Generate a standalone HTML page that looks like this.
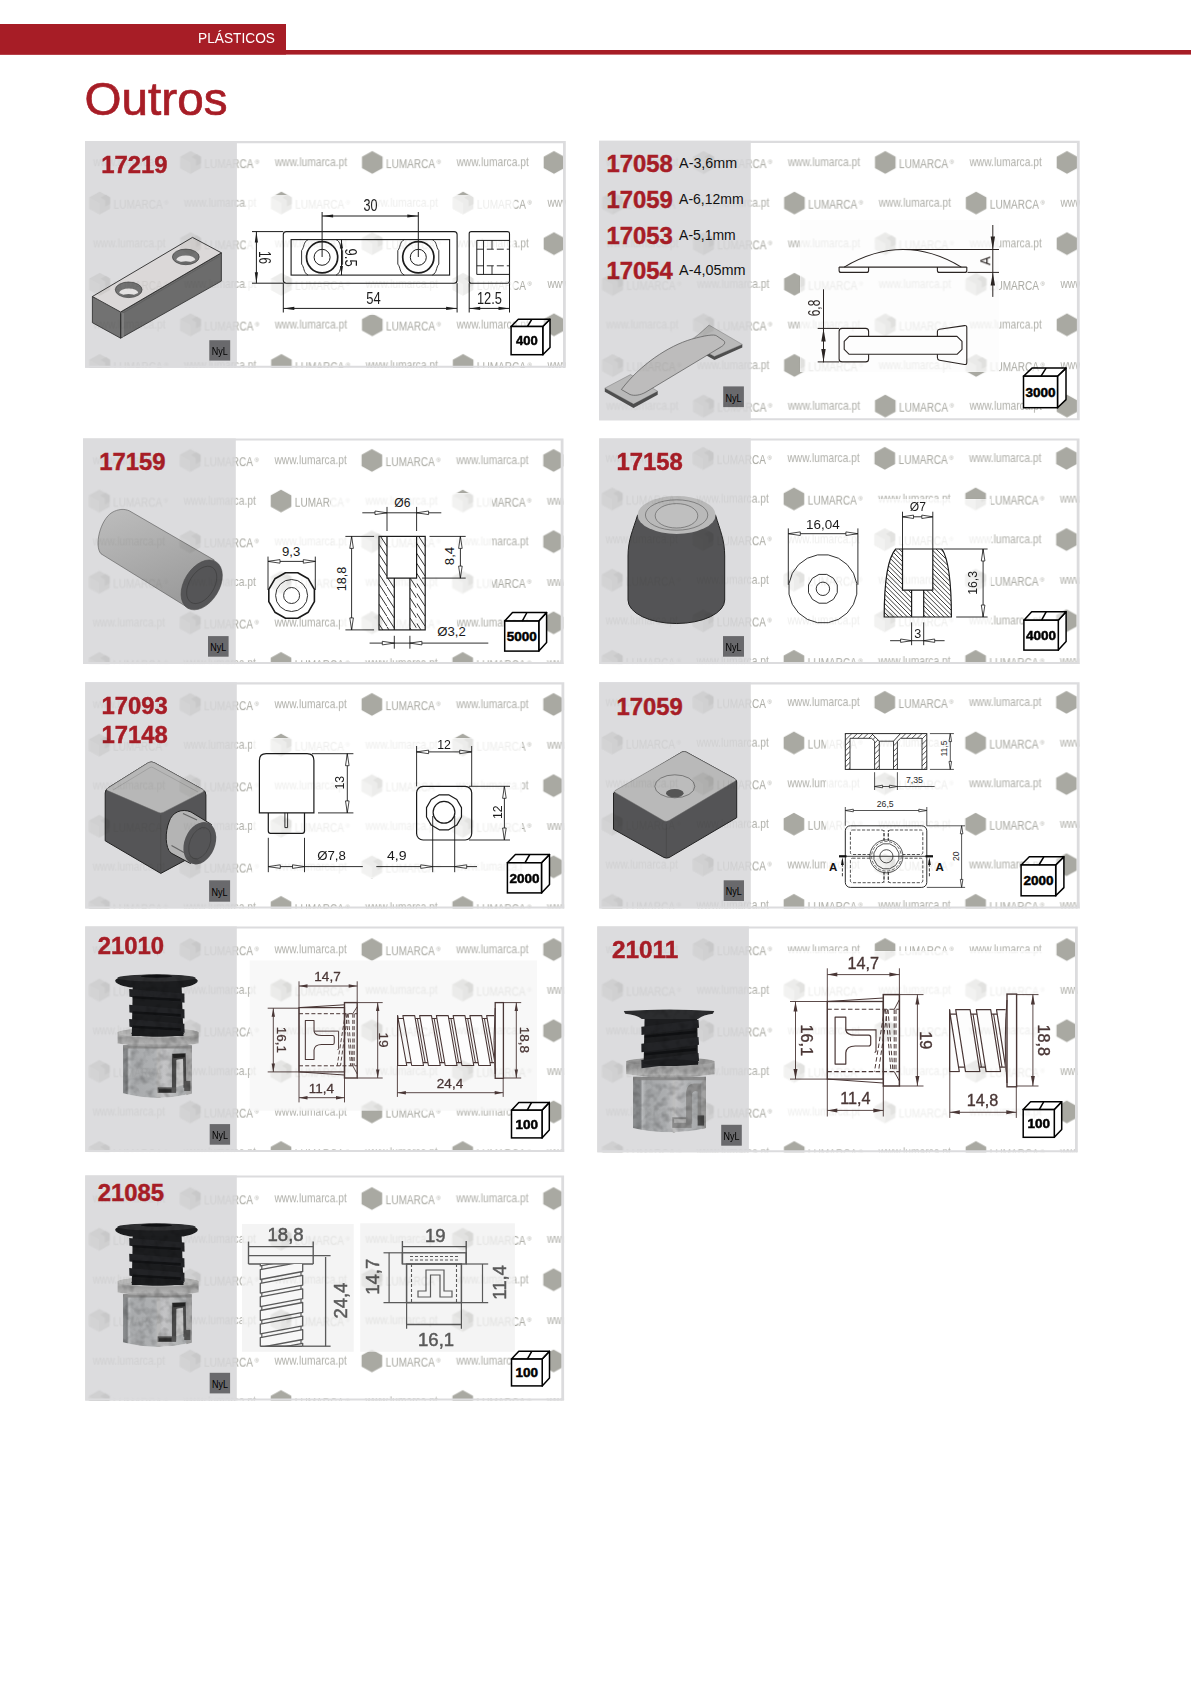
<!DOCTYPE html>
<html lang="pt"><head><meta charset="utf-8"><title>Outros - Plásticos</title>
<style>
html,body{margin:0;padding:0;background:#fff;}
body{width:1191px;height:1684px;overflow:hidden;font-family:'Liberation Sans', sans-serif;}
svg{display:block;position:absolute;left:0;top:0;}
svg text{font-family:'Liberation Sans', sans-serif;}
</style></head><body>
<svg width="1191" height="1684" viewBox="0 0 1191 1684">
<defs>
<pattern id="wm" patternUnits="userSpaceOnUse" x="0" y="0" width="181.7" height="81.2">
<polygon points="12,8.6 22.3,14.3 22.3,25.7 12,31.4 1.7,25.7 1.7,14.3" fill="#a9a9a2"/>
<text x="25.8" y="25.8" font-size="12.2" fill="#a9a9a2" textLength="49" lengthAdjust="spacingAndGlyphs">LUMARCA</text>
<text x="76.4" y="21.6" font-size="6" fill="#a9a9a2">®</text>
<text x="96.3" y="23.9" font-size="12.6" fill="#a9a9a2" textLength="72.3" lengthAdjust="spacingAndGlyphs" fill-opacity="0.92">www.lumarca.pt</text>
<polygon points="102.85,49.2 113.15,54.9 113.15,66.3 102.85,72 92.55,66.3 92.55,54.9" fill="#a9a9a2"/>
<text x="116.65" y="66.4" font-size="12.2" fill="#a9a9a2" textLength="49" lengthAdjust="spacingAndGlyphs">LUMARCA</text>
<text x="167.25" y="62.2" font-size="6" fill="#a9a9a2">®</text>
<text x="5.45" y="64.5" font-size="12.6" fill="#a9a9a2" textLength="72.3" lengthAdjust="spacingAndGlyphs" fill-opacity="0.92">www.lumarca.pt</text>
</pattern>
<pattern id="wm2" patternUnits="userSpaceOnUse" x="0" y="0" width="181.7" height="81.2">
<polygon points="12,8.6 22.3,14.3 22.3,25.7 12,31.4 1.7,25.7 1.7,14.3" fill="#a9a9a2"/>
<polygon points="13,14.5 18,11.6 22.3,14.3 22.3,21 17.5,23.6 17.5,17.4" fill="#77776f"/>
<polygon points="1.7,14.3 12,20 12,31.4 1.7,25.7" fill="#c4c4be"/>
<text x="25.8" y="25.8" font-size="12.2" fill="#a9a9a2" textLength="49" lengthAdjust="spacingAndGlyphs">LUMARCA</text>
<text x="76.4" y="21.6" font-size="6" fill="#a9a9a2">®</text>
<text x="96.3" y="23.9" font-size="12.6" fill="#a9a9a2" textLength="72.3" lengthAdjust="spacingAndGlyphs" fill-opacity="0.92">www.lumarca.pt</text>
<polygon points="102.85,49.2 113.15,54.9 113.15,66.3 102.85,72 92.55,66.3 92.55,54.9" fill="#a9a9a2"/>
<polygon points="103.85,55.1 108.85,52.2 113.15,54.9 113.15,61.6 108.35,64.2 108.35,58" fill="#77776f"/>
<polygon points="92.55,54.9 102.85,60.6 102.85,72 92.55,66.3" fill="#c4c4be"/>
<text x="116.65" y="66.4" font-size="12.2" fill="#a9a9a2" textLength="49" lengthAdjust="spacingAndGlyphs">LUMARCA</text>
<text x="167.25" y="62.2" font-size="6" fill="#a9a9a2">®</text>
<text x="5.45" y="64.5" font-size="12.6" fill="#a9a9a2" textLength="72.3" lengthAdjust="spacingAndGlyphs" fill-opacity="0.92">www.lumarca.pt</text>
</pattern>
</defs>
<rect x="0" y="0" width="1191" height="1684" rx="0" fill="#fff" stroke="none" stroke-width="1" />
<rect x="0" y="24" width="286" height="30.6" rx="0" fill="#a71d26" stroke="none" stroke-width="1" />
<rect x="0" y="50" width="1191" height="4.6" rx="0" fill="#a71d26" stroke="none" stroke-width="1" />
<text x="198" y="43.2" font-size="14.6" text-anchor="start" font-weight="normal" fill="#fff" textLength="77" lengthAdjust="spacingAndGlyphs" >PLÁSTICOS</text>
<text x="84.5" y="114.7" font-size="46.5" text-anchor="start" font-weight="normal" fill="#a71d26" textLength="143" lengthAdjust="spacingAndGlyphs" stroke="#a71d26" stroke-width="0.7">Outros</text>
<!-- card 1 -->
<rect x="85.1" y="141" width="480.7" height="226.8" rx="0" fill="#fff" stroke="none" stroke-width="1" />
<g transform="translate(178.6 61.2)"><rect x="-93.5" y="79.8" width="480.7" height="226.8" fill="url(#wm)" opacity="1"/></g>
<rect x="85.1" y="141" width="151.8" height="226.8" rx="0" fill="#dcdcde" stroke="none" stroke-width="1" />
<rect x="246" y="195" width="268.5" height="120" rx="0" fill="#fff" stroke="none" stroke-width="1" />
<text x="101.3" y="172.7" font-size="23.5" text-anchor="start" font-weight="bold" fill="#a71d26" textLength="66.3" lengthAdjust="spacingAndGlyphs" stroke="#a71d26" stroke-width="0.45">17219</text>
<polygon points="92.4,296.5 120.6,312 120.6,338.2 92.4,322.7" fill="#727272" stroke="#2a2a2a" stroke-width="0.8" stroke-linejoin="round" />
<polygon points="120.6,312 221.4,252.8 221.4,281.1 120.6,338.2" fill="#6c6c6c" stroke="#2a2a2a" stroke-width="0.8" stroke-linejoin="round" />
<polygon points="92.4,296.5 192.5,237.4 221.4,252.8 120.6,312" fill="#dbd8d8" stroke="#2a2a2a" stroke-width="0.9" stroke-linejoin="round" />
<line x1="95.5" y1="298.6" x2="122" y2="313.6" stroke="#777" stroke-width="0.5" />
<line x1="122" y1="313.6" x2="219.5" y2="256.2" stroke="#555" stroke-width="0.5" />
<line x1="123" y1="313" x2="123" y2="337" stroke="#8a8a8a" stroke-width="1.2" />
<ellipse cx="185.8" cy="256.9" rx="13.4" ry="7.8" fill="#727272" stroke="#333" stroke-width="0.6"/>
<path d="M176.3 260.1 A9.5 4.6 0 0 1 195.3 260.1 A13.4 7.8 0 0 1 176.3 260.1Z" fill="#e4e2e2" stroke="none" stroke-width="1" />
<ellipse cx="185.8" cy="262.9" rx="5.6" ry="1.7" fill="#666" stroke="none" stroke-width="1"/>
<ellipse cx="128.7" cy="289.8" rx="13.4" ry="7.8" fill="#727272" stroke="#333" stroke-width="0.6"/>
<path d="M119.2 293 A9.5 4.6 0 0 1 138.2 293 A13.4 7.8 0 0 1 119.2 293Z" fill="#e4e2e2" stroke="none" stroke-width="1" />
<ellipse cx="128.7" cy="295.8" rx="5.6" ry="1.7" fill="#666" stroke="none" stroke-width="1"/>
<rect x="209.3" y="340.2" width="20.9" height="20.4" rx="0" fill="#69696c" stroke="none" stroke-width="1" />
<text x="219.75" y="355" font-size="11.5" text-anchor="middle" font-weight="normal" fill="#000" textLength="16" lengthAdjust="spacingAndGlyphs" >NyL</text>
<rect x="283.3" y="231.6" width="173.8" height="51.6" rx="3" fill="none" stroke="#1c1c1c" stroke-width="1.1" />
<rect x="291.1" y="239.6" width="158.5" height="35.5" rx="0" fill="none" stroke="#1c1c1c" stroke-width="1.1" />
<path d="M308.1 239.6 C303.1 242 304.6 247 301.6 250.5 L301.6 264.1 C304.6 267.6 303.1 272.6 308.1 275.1 M336.1 239.6 C341.1 242 339.6 247 342.6 250.5 L342.6 264.1 C339.6 267.6 341.1 272.6 336.1 275.1" fill="none" stroke="#1c1c1c" stroke-width="0.9" />
<circle cx="322.1" cy="257.3" r="15.6" fill="none" stroke="#1c1c1c" stroke-width="1.7"/>
<circle cx="322.1" cy="257.3" r="8" fill="none" stroke="#1c1c1c" stroke-width="1"/>
<path d="M404.3 239.6 C399.3 242 400.8 247 397.8 250.5 L397.8 264.1 C400.8 267.6 399.3 272.6 404.3 275.1 M432.3 239.6 C437.3 242 435.8 247 438.8 250.5 L438.8 264.1 C435.8 267.6 437.3 272.6 432.3 275.1" fill="none" stroke="#1c1c1c" stroke-width="0.9" />
<circle cx="418.3" cy="257.3" r="15.6" fill="none" stroke="#1c1c1c" stroke-width="1.7"/>
<circle cx="418.3" cy="257.3" r="8" fill="none" stroke="#1c1c1c" stroke-width="1"/>
<line x1="322.1" y1="212" x2="322.1" y2="257" stroke="#1c1c1c" stroke-width="1" />
<line x1="418.3" y1="212" x2="418.3" y2="257" stroke="#1c1c1c" stroke-width="1" />
<line x1="322.1" y1="216" x2="418.3" y2="216" stroke="#1c1c1c" stroke-width="1" />
<polygon points="322.1,216 333.1,214.4 333.1,217.6" fill="#1c1c1c" stroke="none" stroke-width="1" stroke-linejoin="round" />
<polygon points="418.3,216 407.3,217.6 407.3,214.4" fill="#1c1c1c" stroke="none" stroke-width="1" stroke-linejoin="round" />
<text x="370.5" y="211" font-size="17" text-anchor="middle" font-weight="normal" fill="#1c1c1c" textLength="14" lengthAdjust="spacingAndGlyphs" >30</text>
<line x1="252" y1="231.6" x2="283.3" y2="231.6" stroke="#1c1c1c" stroke-width="1" />
<line x1="252" y1="283.2" x2="283.3" y2="283.2" stroke="#1c1c1c" stroke-width="1" />
<line x1="256.4" y1="231.6" x2="256.4" y2="283.2" stroke="#1c1c1c" stroke-width="1" />
<polygon points="256.4,231.6 258,242.6 254.8,242.6" fill="#1c1c1c" stroke="none" stroke-width="1" stroke-linejoin="round" />
<polygon points="256.4,283.2 254.8,272.2 258,272.2" fill="#1c1c1c" stroke="none" stroke-width="1" stroke-linejoin="round" />
<text x="258.6" y="257.4" font-size="17" text-anchor="middle" font-weight="normal" fill="#1c1c1c" textLength="13" lengthAdjust="spacingAndGlyphs" transform="rotate(90 258.6 257.4)" >16</text>
<line x1="341.5" y1="239.6" x2="341.5" y2="275.1" stroke="#1c1c1c" stroke-width="1" />
<polygon points="341.5,239.6 343,248.6 340,248.6" fill="#1c1c1c" stroke="none" stroke-width="1" stroke-linejoin="round" />
<polygon points="341.5,275.1 340,266.1 343,266.1" fill="#1c1c1c" stroke="none" stroke-width="1" stroke-linejoin="round" />
<text x="344.6" y="257.6" font-size="17" text-anchor="middle" font-weight="normal" fill="#1c1c1c" textLength="18" lengthAdjust="spacingAndGlyphs" transform="rotate(90 344.6 257.6)" >9.5</text>
<line x1="283.3" y1="283.2" x2="283.3" y2="312.5" stroke="#1c1c1c" stroke-width="1" />
<line x1="457.1" y1="283.2" x2="457.1" y2="312.5" stroke="#1c1c1c" stroke-width="1" />
<line x1="283.3" y1="308.4" x2="457.1" y2="308.4" stroke="#1c1c1c" stroke-width="1" />
<polygon points="283.3,308.4 294.3,306.8 294.3,310" fill="#1c1c1c" stroke="none" stroke-width="1" stroke-linejoin="round" />
<polygon points="457.1,308.4 446.1,310 446.1,306.8" fill="#1c1c1c" stroke="none" stroke-width="1" stroke-linejoin="round" />
<text x="373.5" y="304" font-size="17" text-anchor="middle" font-weight="normal" fill="#1c1c1c" textLength="14.5" lengthAdjust="spacingAndGlyphs" >54</text>
<rect x="469.2" y="231.6" width="40.3" height="51.6" rx="2" fill="none" stroke="#1c1c1c" stroke-width="1.1" />
<line x1="476.8" y1="240.4" x2="476.8" y2="274.4" stroke="#1c1c1c" stroke-width="1" />
<line x1="476.8" y1="240.4" x2="509.5" y2="240.4" stroke="#1c1c1c" stroke-width="1" />
<line x1="476.8" y1="274.4" x2="509.5" y2="274.4" stroke="#1c1c1c" stroke-width="1" />
<line x1="483.5" y1="240.4" x2="483.5" y2="274.4" stroke="#1c1c1c" stroke-width="0.9" />
<line x1="476.8" y1="249.2" x2="509.5" y2="249.2" stroke="#1c1c1c" stroke-width="0.9" stroke-dasharray="7 3"/>
<line x1="476.8" y1="265.8" x2="509.5" y2="265.8" stroke="#1c1c1c" stroke-width="0.9" stroke-dasharray="7 3"/>
<line x1="492" y1="240.4" x2="492" y2="249.2" stroke="#1c1c1c" stroke-width="0.9" />
<line x1="492" y1="265.8" x2="492" y2="274.4" stroke="#1c1c1c" stroke-width="0.9" />
<line x1="469.2" y1="283.2" x2="469.2" y2="312.5" stroke="#1c1c1c" stroke-width="1" />
<line x1="509.5" y1="283.2" x2="509.5" y2="312.5" stroke="#1c1c1c" stroke-width="1" />
<line x1="469.2" y1="308.4" x2="509.5" y2="308.4" stroke="#1c1c1c" stroke-width="1" />
<polygon points="469.2,308.4 480.2,306.8 480.2,310" fill="#1c1c1c" stroke="none" stroke-width="1" stroke-linejoin="round" />
<polygon points="509.5,308.4 498.5,310 498.5,306.8" fill="#1c1c1c" stroke="none" stroke-width="1" stroke-linejoin="round" />
<text x="489.4" y="304" font-size="17" text-anchor="middle" font-weight="normal" fill="#1c1c1c" textLength="25" lengthAdjust="spacingAndGlyphs" >12.5</text>
<polygon points="542.8,326.5 550,319.3 550,347.5 542.8,354.7" fill="#fff" stroke="#000" stroke-width="1.5" stroke-linejoin="round" />
<polygon points="511.1,326.5 518.3,319.3 550,319.3 542.8,326.5" fill="#fff" stroke="#000" stroke-width="1.5" stroke-linejoin="round" fill-opacity="0.55"/>
<rect x="511.1" y="326.5" width="31.7" height="28.2" rx="0" fill="#fff" stroke="#000" stroke-width="1.5" />
<line x1="527.45" y1="326.5" x2="531.77" y2="319.3" stroke="#000" stroke-width="1.5" />
<text x="526.95" y="345.28" font-size="13" text-anchor="middle" font-weight="bold" fill="#000" stroke="#000" stroke-width="0.5">400</text>
<g transform="translate(178.6 61.2)"><rect x="-93.5" y="79.8" width="151.8" height="226.8" fill="url(#wm2)" opacity="0.17" style="mix-blend-mode:multiply"/></g>
<g transform="translate(178.6 61.2)"><rect x="67.4" y="133.8" width="268.5" height="120" fill="url(#wm2)" opacity="0.22" style="mix-blend-mode:multiply"/></g>
<path d="M85.1 141H565.8V367.8H85.1Z M87.1 143.2V365.8H563V143.2Z" fill="#dcdcde" fill-rule="evenodd"/>
<!-- card 2 -->
<rect x="599.1" y="140.8" width="480.6" height="279.5" rx="0" fill="#fff" stroke="none" stroke-width="1" />
<g transform="translate(146.5 61.2)"><rect x="452.6" y="79.6" width="480.6" height="279.5" fill="url(#wm)" opacity="1"/></g>
<rect x="599.1" y="140.8" width="151.7" height="279.5" rx="0" fill="#dcdcde" stroke="none" stroke-width="1" />
<rect x="800" y="220" width="199" height="152" rx="0" fill="#fdfdfd" stroke="none" stroke-width="1" />
<text x="606.5" y="171.6" font-size="23.5" text-anchor="start" font-weight="bold" fill="#a71d26" textLength="66.3" lengthAdjust="spacingAndGlyphs" stroke="#a71d26" stroke-width="0.45">17058</text>
<text x="679.1" y="167.6" font-size="14.2" text-anchor="start" font-weight="normal" fill="#111" textLength="58" lengthAdjust="spacingAndGlyphs" >A-3,6mm</text>
<text x="606.5" y="207.55" font-size="23.5" text-anchor="start" font-weight="bold" fill="#a71d26" textLength="66.3" lengthAdjust="spacingAndGlyphs" stroke="#a71d26" stroke-width="0.45">17059</text>
<text x="679.1" y="203.55" font-size="14.2" text-anchor="start" font-weight="normal" fill="#111" textLength="64.5" lengthAdjust="spacingAndGlyphs" >A-6,12mm</text>
<text x="606.5" y="243.5" font-size="23.5" text-anchor="start" font-weight="bold" fill="#a71d26" textLength="66.3" lengthAdjust="spacingAndGlyphs" stroke="#a71d26" stroke-width="0.45">17053</text>
<text x="679.1" y="239.5" font-size="14.2" text-anchor="start" font-weight="normal" fill="#111" textLength="56.5" lengthAdjust="spacingAndGlyphs" >A-5,1mm</text>
<text x="606.5" y="279.45" font-size="23.5" text-anchor="start" font-weight="bold" fill="#a71d26" textLength="66.3" lengthAdjust="spacingAndGlyphs" stroke="#a71d26" stroke-width="0.45">17054</text>
<text x="679.1" y="275.45" font-size="14.2" text-anchor="start" font-weight="normal" fill="#111" textLength="66.5" lengthAdjust="spacingAndGlyphs" >A-4,05mm</text>
<polygon points="604.8,388.2 630.5,374.6 657.7,391.3 633.5,404.1" fill="#b9b9b9" stroke="#777" stroke-width="0.5" stroke-linejoin="round" />
<polygon points="604.8,388.2 633.5,404.1 657.7,391.3 657.7,394.8 633.5,407.9 604.8,391.8" fill="#4e4e4e" stroke="none" stroke-width="1" stroke-linejoin="round" />
<polygon points="709.1,325.1 742.3,344.4 714.4,356.5 690,342" fill="#b9b9b9" stroke="#777" stroke-width="0.5" stroke-linejoin="round" />
<polygon points="742.3,344.4 742.3,347.6 714.4,360 706.1,355.3 706.1,352 714.4,356.5" fill="#4e4e4e" stroke="none" stroke-width="1" stroke-linejoin="round" />
<path d="M621.4 389.5 C640 365 668 346 691.7 339.1 C705 335.5 714 334 716.5 335.8 L723.5 340.5 C726 342.5 724.5 345 720 347.5 L646 392 C640 395.5 634 396 630 394.5 Z" fill="#bdbcbc" stroke="#555" stroke-width="0.7" />
<path d="M691.7 339.1 C700 334 704 330 709.1 325.1" fill="none" stroke="#888" stroke-width="0.5" />
<rect x="723.2" y="386.4" width="20.7" height="20.7" rx="0" fill="#69696c" stroke="none" stroke-width="1" />
<text x="733.55" y="401.5" font-size="11.5" text-anchor="middle" font-weight="normal" fill="#000" textLength="16" lengthAdjust="spacingAndGlyphs" >NyL</text>
<path d="M844.2 267.1 Q903.4 232 961.3 267.1" fill="none" stroke="#2a2422" stroke-width="1.1" />
<line x1="839.1" y1="267.1" x2="966.8" y2="267.1" stroke="#2a2422" stroke-width="1.1" />
<path d="M839.1 267.1 V270.4 Q839.1 272.4 841.1 272.4 H866.6 Q868.6 272.4 868.6 270.4 V267.1" fill="none" stroke="#2a2422" stroke-width="1.1" />
<path d="M937.4 267.1 V270.4 Q937.4 272.4 939.4 272.4 H964.8 Q966.8 272.4 966.8 270.4 V267.1" fill="none" stroke="#2a2422" stroke-width="1.1" />
<line x1="903" y1="249.5" x2="999" y2="249.5" stroke="#2a2422" stroke-width="1" />
<line x1="967.5" y1="272.4" x2="999" y2="272.4" stroke="#2a2422" stroke-width="1" />
<line x1="992.8" y1="225" x2="992.8" y2="296.9" stroke="#2a2422" stroke-width="1" />
<polygon points="992.8,249.5 990.6,236.5 995,236.5" fill="#2a2422" stroke="none" stroke-width="1" stroke-linejoin="round" />
<polygon points="992.8,272.4 995,285.4 990.6,285.4" fill="#2a2422" stroke="none" stroke-width="1" stroke-linejoin="round" />
<text x="990.3" y="261" font-size="15.5" text-anchor="middle" font-weight="normal" fill="#2a2422" textLength="8.8" lengthAdjust="spacingAndGlyphs" transform="rotate(-90 990.3 261)" >A</text>
<line x1="823.5" y1="289.3" x2="823.5" y2="362.4" stroke="#2a2422" stroke-width="1" />
<line x1="817.7" y1="328.4" x2="839.1" y2="328.4" stroke="#2a2422" stroke-width="1" />
<line x1="817.7" y1="361.9" x2="839.1" y2="361.9" stroke="#2a2422" stroke-width="1" />
<polygon points="823.5,328.4 825.7,341.4 821.3,341.4" fill="#2a2422" stroke="none" stroke-width="1" stroke-linejoin="round" />
<polygon points="823.5,361.9 821.3,348.9 825.7,348.9" fill="#2a2422" stroke="none" stroke-width="1" stroke-linejoin="round" />
<text x="820" y="308" font-size="17" text-anchor="middle" font-weight="normal" fill="#2a2422" textLength="16.4" lengthAdjust="spacingAndGlyphs" transform="rotate(-90 820 308)" >6,8</text>
<rect x="839.1" y="328.4" width="29.5" height="33.5" rx="3" fill="none" stroke="#2a2422" stroke-width="1.1" />
<path d="M939.5 329.3 L964.5 325.6 Q966.8 325.3 966.8 327.6 V362.6 Q966.8 364.9 964.5 364.5 L939.5 360.2 Q937.4 359.8 937.4 357.6 V331.6 Q937.4 329.6 939.5 329.3Z" fill="none" stroke="#2a2422" stroke-width="1.1" />
<path d="M849.2 336.4 H957 L962 341.4 V349.3 L957 354.3 H849.2 L844.2 349.3 V341.4 Z" fill="#fdfdfd" stroke="#2a2422" stroke-width="1.1" stroke-linejoin="round"/>
<polygon points="1057.5,376.2 1066,368.1 1066,399.6 1057.5,407.7" fill="#fff" stroke="#000" stroke-width="1.5" stroke-linejoin="round" />
<polygon points="1023.5,376.2 1032,368.1 1066,368.1 1057.5,376.2" fill="#fff" stroke="#000" stroke-width="1.5" stroke-linejoin="round" fill-opacity="0.55"/>
<rect x="1023.5" y="376.2" width="34" height="31.5" rx="0" fill="#fff" stroke="#000" stroke-width="1.5" />
<line x1="1041" y1="376.2" x2="1046.1" y2="368.1" stroke="#000" stroke-width="1.5" />
<text x="1040.5" y="396.81" font-size="13.5" text-anchor="middle" font-weight="bold" fill="#000" stroke="#000" stroke-width="0.5">3000</text>
<g transform="translate(146.5 61.2)"><rect x="452.6" y="79.6" width="151.7" height="279.5" fill="url(#wm2)" opacity="0.17" style="mix-blend-mode:multiply"/></g>
<g transform="translate(146.5 61.2)"><rect x="653.5" y="158.8" width="199" height="152" fill="url(#wm2)" opacity="0.22" style="mix-blend-mode:multiply"/></g>
<path d="M599.1 140.8H1079.7V420.3H599.1Z M601.1 143V418.3H1076.9V143Z" fill="#dcdcde" fill-rule="evenodd"/>
<!-- card 3 -->
<rect x="83.1" y="438.4" width="480.4" height="225.6" rx="0" fill="#fff" stroke="none" stroke-width="1" />
<g transform="translate(178.2 34.4)"><rect x="-95.1" y="404" width="480.4" height="225.6" fill="url(#wm)" opacity="1"/></g>
<rect x="83.1" y="438.4" width="152.7" height="225.6" rx="0" fill="#dcdcde" stroke="none" stroke-width="1" />
<rect x="262" y="527" width="70" height="87" rx="0" fill="#fff" stroke="none" stroke-width="1" />
<rect x="331" y="493" width="161" height="119" rx="0" fill="#fff" stroke="none" stroke-width="1" />
<rect x="340" y="610" width="117" height="42" rx="0" fill="#fff" stroke="none" stroke-width="1" />
<text x="99.3" y="469.5" font-size="23.5" text-anchor="start" font-weight="bold" fill="#a71d26" textLength="66.3" lengthAdjust="spacingAndGlyphs" stroke="#a71d26" stroke-width="0.45">17159</text>
<defs><linearGradient id="cyl3" x1="0" y1="0" x2="0.45" y2="1"><stop offset="0" stop-color="#bdbdbd"/><stop offset="0.5" stop-color="#adadad"/><stop offset="1" stop-color="#9c9c9c"/></linearGradient></defs>
<path d="M129.3 510.8 L214.3 560.1 L189.2 608.4 L101 553.8 C94 546 100 520 112 512.5 C118 509 124 508.5 129.3 510.8Z" fill="url(#cyl3)" stroke="#555" stroke-width="0.6" />
<ellipse cx="201.7" cy="584.9" rx="17.6" ry="27.2" fill="#555557" stroke="#444" stroke-width="0.5" transform="rotate(31.4 201.7 584.9)"/>
<ellipse cx="201.7" cy="584.9" rx="12.5" ry="20.5" fill="none" stroke="#3c3c3c" stroke-width="0.6" transform="rotate(31.4 201.7 584.9)"/>
<rect x="208" y="636.1" width="20.6" height="20.6" rx="0" fill="#69696c" stroke="none" stroke-width="1" />
<text x="218.3" y="651.1" font-size="11.5" text-anchor="middle" font-weight="normal" fill="#000" textLength="16" lengthAdjust="spacingAndGlyphs" >NyL</text>
<polygon points="314.4,601.61 308.29,612.19 297.71,618.3 285.49,618.3 274.91,612.19 268.8,601.61 268.8,589.39 274.91,578.81 285.49,572.7 297.71,572.7 308.29,578.81 314.4,589.39" fill="none" stroke="#1a1a1a" stroke-width="1.6" stroke-linejoin="round" />
<circle cx="291.6" cy="595.5" r="16" fill="none" stroke="#1a1a1a" stroke-width="0.9"/>
<circle cx="291.6" cy="595.5" r="8" fill="none" stroke="#1a1a1a" stroke-width="0.9"/>
<line x1="268" y1="556.6" x2="268" y2="590" stroke="#1a1a1a" stroke-width="0.9" />
<line x1="315.3" y1="556.6" x2="315.3" y2="590" stroke="#1a1a1a" stroke-width="0.9" />
<line x1="268" y1="561.4" x2="315.3" y2="561.4" stroke="#1a1a1a" stroke-width="0.9" />
<polygon points="268,561.4 280,559.6 280,563.2" fill="#fff" stroke="#1a1a1a" stroke-width="0.8" stroke-linejoin="round" />
<polygon points="315.3,561.4 303.3,563.2 303.3,559.6" fill="#fff" stroke="#1a1a1a" stroke-width="0.8" stroke-linejoin="round" />
<text x="291.1" y="556" font-size="12.5" text-anchor="middle" font-weight="normal" fill="#1a1a1a" textLength="18.3" lengthAdjust="spacingAndGlyphs" >9,3</text>
<clipPath id="hc159"><rect x="379" y="536.4" width="8" height="93.5"/></clipPath><g clip-path="url(#hc159)">
<line x1="379" y1="524.08" x2="387" y2="536.4" stroke="#1a1a1a" stroke-width="0.9" />
<line x1="379" y1="534.08" x2="387" y2="546.4" stroke="#1a1a1a" stroke-width="0.9" />
<line x1="379" y1="544.08" x2="387" y2="556.4" stroke="#1a1a1a" stroke-width="0.9" />
<line x1="379" y1="554.08" x2="387" y2="566.4" stroke="#1a1a1a" stroke-width="0.9" />
<line x1="379" y1="564.08" x2="387" y2="576.4" stroke="#1a1a1a" stroke-width="0.9" />
<line x1="379" y1="574.08" x2="387" y2="586.4" stroke="#1a1a1a" stroke-width="0.9" />
<line x1="379" y1="584.08" x2="387" y2="596.4" stroke="#1a1a1a" stroke-width="0.9" />
<line x1="379" y1="594.08" x2="387" y2="606.4" stroke="#1a1a1a" stroke-width="0.9" />
<line x1="379" y1="604.08" x2="387" y2="616.4" stroke="#1a1a1a" stroke-width="0.9" />
<line x1="379" y1="614.08" x2="387" y2="626.4" stroke="#1a1a1a" stroke-width="0.9" />
<line x1="379" y1="624.08" x2="387" y2="636.4" stroke="#1a1a1a" stroke-width="0.9" />
<line x1="379" y1="634.08" x2="387" y2="646.4" stroke="#1a1a1a" stroke-width="0.9" />
</g>
<clipPath id="hc173"><rect x="416.6" y="536.4" width="8.6" height="93.5"/></clipPath><g clip-path="url(#hc173)">
<line x1="416.6" y1="523.16" x2="425.2" y2="536.4" stroke="#1a1a1a" stroke-width="0.9" />
<line x1="416.6" y1="533.16" x2="425.2" y2="546.4" stroke="#1a1a1a" stroke-width="0.9" />
<line x1="416.6" y1="543.16" x2="425.2" y2="556.4" stroke="#1a1a1a" stroke-width="0.9" />
<line x1="416.6" y1="553.16" x2="425.2" y2="566.4" stroke="#1a1a1a" stroke-width="0.9" />
<line x1="416.6" y1="563.16" x2="425.2" y2="576.4" stroke="#1a1a1a" stroke-width="0.9" />
<line x1="416.6" y1="573.16" x2="425.2" y2="586.4" stroke="#1a1a1a" stroke-width="0.9" />
<line x1="416.6" y1="583.16" x2="425.2" y2="596.4" stroke="#1a1a1a" stroke-width="0.9" />
<line x1="416.6" y1="593.16" x2="425.2" y2="606.4" stroke="#1a1a1a" stroke-width="0.9" />
<line x1="416.6" y1="603.16" x2="425.2" y2="616.4" stroke="#1a1a1a" stroke-width="0.9" />
<line x1="416.6" y1="613.16" x2="425.2" y2="626.4" stroke="#1a1a1a" stroke-width="0.9" />
<line x1="416.6" y1="623.16" x2="425.2" y2="636.4" stroke="#1a1a1a" stroke-width="0.9" />
<line x1="416.6" y1="633.16" x2="425.2" y2="646.4" stroke="#1a1a1a" stroke-width="0.9" />
</g>
<clipPath id="hc187"><rect x="387" y="578.1" width="7.3" height="51.8"/></clipPath><g clip-path="url(#hc187)">
<line x1="387" y1="566.86" x2="394.3" y2="578.1" stroke="#1a1a1a" stroke-width="0.9" />
<line x1="387" y1="576.86" x2="394.3" y2="588.1" stroke="#1a1a1a" stroke-width="0.9" />
<line x1="387" y1="586.86" x2="394.3" y2="598.1" stroke="#1a1a1a" stroke-width="0.9" />
<line x1="387" y1="596.86" x2="394.3" y2="608.1" stroke="#1a1a1a" stroke-width="0.9" />
<line x1="387" y1="606.86" x2="394.3" y2="618.1" stroke="#1a1a1a" stroke-width="0.9" />
<line x1="387" y1="616.86" x2="394.3" y2="628.1" stroke="#1a1a1a" stroke-width="0.9" />
<line x1="387" y1="626.86" x2="394.3" y2="638.1" stroke="#1a1a1a" stroke-width="0.9" />
<line x1="387" y1="636.86" x2="394.3" y2="648.1" stroke="#1a1a1a" stroke-width="0.9" />
</g>
<clipPath id="hc197"><rect x="409.9" y="578.1" width="6.7" height="51.8"/></clipPath><g clip-path="url(#hc197)">
<line x1="409.9" y1="567.78" x2="416.6" y2="578.1" stroke="#1a1a1a" stroke-width="0.9" />
<line x1="409.9" y1="577.78" x2="416.6" y2="588.1" stroke="#1a1a1a" stroke-width="0.9" />
<line x1="409.9" y1="587.78" x2="416.6" y2="598.1" stroke="#1a1a1a" stroke-width="0.9" />
<line x1="409.9" y1="597.78" x2="416.6" y2="608.1" stroke="#1a1a1a" stroke-width="0.9" />
<line x1="409.9" y1="607.78" x2="416.6" y2="618.1" stroke="#1a1a1a" stroke-width="0.9" />
<line x1="409.9" y1="617.78" x2="416.6" y2="628.1" stroke="#1a1a1a" stroke-width="0.9" />
<line x1="409.9" y1="627.78" x2="416.6" y2="638.1" stroke="#1a1a1a" stroke-width="0.9" />
<line x1="409.9" y1="637.78" x2="416.6" y2="648.1" stroke="#1a1a1a" stroke-width="0.9" />
</g>
<rect x="379" y="536.4" width="46.2" height="93.5" rx="0" fill="none" stroke="#1a1a1a" stroke-width="1.2" />
<path d="M387 536.4 V578.1 H416.6 V536.4 M394.3 578.1 V629.9 M409.9 578.1 V629.9" fill="none" stroke="#1a1a1a" stroke-width="1.2" />
<line x1="387" y1="506.9" x2="387" y2="531" stroke="#1a1a1a" stroke-width="0.9" />
<line x1="416.6" y1="506.9" x2="416.6" y2="531" stroke="#1a1a1a" stroke-width="0.9" />
<line x1="362.3" y1="512.8" x2="441.3" y2="512.8" stroke="#1a1a1a" stroke-width="0.9" />
<polygon points="387,512.8 375,514.6 375,511" fill="#fff" stroke="#1a1a1a" stroke-width="0.8" stroke-linejoin="round" />
<polygon points="416.6,512.8 428.6,511 428.6,514.6" fill="#fff" stroke="#1a1a1a" stroke-width="0.8" stroke-linejoin="round" />
<text x="402.3" y="506.9" font-size="12.5" text-anchor="middle" font-weight="normal" fill="#1a1a1a" textLength="16.1" lengthAdjust="spacingAndGlyphs" >Ø6</text>
<line x1="345.4" y1="536.4" x2="374.1" y2="536.4" stroke="#1a1a1a" stroke-width="0.9" />
<line x1="345.4" y1="629.9" x2="374.1" y2="629.9" stroke="#1a1a1a" stroke-width="0.9" />
<line x1="351.6" y1="536.4" x2="351.6" y2="629.9" stroke="#1a1a1a" stroke-width="0.9" />
<polygon points="351.6,536.4 353.4,548.4 349.8,548.4" fill="#fff" stroke="#1a1a1a" stroke-width="0.8" stroke-linejoin="round" />
<polygon points="351.6,629.9 349.8,617.9 353.4,617.9" fill="#fff" stroke="#1a1a1a" stroke-width="0.8" stroke-linejoin="round" />
<text x="345.8" y="578.9" font-size="12.5" text-anchor="middle" font-weight="normal" fill="#1a1a1a" textLength="24.5" lengthAdjust="spacingAndGlyphs" transform="rotate(-90 345.8 578.9)" >18,8</text>
<line x1="429.5" y1="536.4" x2="465.7" y2="536.4" stroke="#1a1a1a" stroke-width="0.9" />
<line x1="422" y1="578.1" x2="465.7" y2="578.1" stroke="#1a1a1a" stroke-width="0.9" />
<line x1="460.4" y1="536.4" x2="460.4" y2="578.1" stroke="#1a1a1a" stroke-width="0.9" />
<polygon points="460.4,536.4 462.2,548.4 458.6,548.4" fill="#fff" stroke="#1a1a1a" stroke-width="0.8" stroke-linejoin="round" />
<polygon points="460.4,578.1 458.6,566.1 462.2,566.1" fill="#fff" stroke="#1a1a1a" stroke-width="0.8" stroke-linejoin="round" />
<text x="453.8" y="556" font-size="12.5" text-anchor="middle" font-weight="normal" fill="#1a1a1a" textLength="18.3" lengthAdjust="spacingAndGlyphs" transform="rotate(-90 453.8 556)" >8,4</text>
<line x1="394.3" y1="635.8" x2="394.3" y2="648.7" stroke="#1a1a1a" stroke-width="0.9" />
<line x1="409.9" y1="635.8" x2="409.9" y2="648.7" stroke="#1a1a1a" stroke-width="0.9" />
<line x1="369.6" y1="643.1" x2="488.3" y2="643.1" stroke="#1a1a1a" stroke-width="0.9" />
<polygon points="394.3,643.1 382.3,644.9 382.3,641.3" fill="#fff" stroke="#1a1a1a" stroke-width="0.8" stroke-linejoin="round" />
<polygon points="409.9,643.1 421.9,641.3 421.9,644.9" fill="#fff" stroke="#1a1a1a" stroke-width="0.8" stroke-linejoin="round" />
<text x="437.3" y="635.8" font-size="12.5" text-anchor="start" font-weight="normal" fill="#1a1a1a" textLength="28.5" lengthAdjust="spacingAndGlyphs" >Ø3,2</text>
<polygon points="538.8,621.1 546.6,612.5 546.6,642.5 538.8,651.1" fill="#fff" stroke="#000" stroke-width="1.5" stroke-linejoin="round" />
<polygon points="504.7,621.1 512.5,612.5 546.6,612.5 538.8,621.1" fill="#fff" stroke="#000" stroke-width="1.5" stroke-linejoin="round" fill-opacity="0.55"/>
<rect x="504.7" y="621.1" width="34.1" height="30" rx="0" fill="#fff" stroke="#000" stroke-width="1.5" />
<line x1="522.25" y1="621.1" x2="526.93" y2="612.5" stroke="#000" stroke-width="1.5" />
<text x="521.75" y="640.96" font-size="13.5" text-anchor="middle" font-weight="bold" fill="#000" stroke="#000" stroke-width="0.5">5000</text>
<g transform="translate(178.2 34.4)"><rect x="-95.1" y="404" width="152.7" height="225.6" fill="url(#wm2)" opacity="0.17" style="mix-blend-mode:multiply"/></g>
<g transform="translate(178.2 34.4)"><rect x="83.8" y="492.6" width="70" height="87" fill="url(#wm2)" opacity="0.22" style="mix-blend-mode:multiply"/></g>
<g transform="translate(178.2 34.4)"><rect x="152.8" y="458.6" width="161" height="119" fill="url(#wm2)" opacity="0.22" style="mix-blend-mode:multiply"/></g>
<g transform="translate(178.2 34.4)"><rect x="161.8" y="575.6" width="117" height="42" fill="url(#wm2)" opacity="0.22" style="mix-blend-mode:multiply"/></g>
<path d="M83.1 438.4H563.5V664H83.1Z M85.1 440.6V662H560.7V440.6Z" fill="#dcdcde" fill-rule="evenodd"/>
<!-- card 4 -->
<rect x="599.2" y="438.4" width="480.3" height="225.6" rx="0" fill="#fff" stroke="none" stroke-width="1" />
<g transform="translate(146 32.3)"><rect x="453.2" y="406.1" width="480.3" height="225.6" fill="url(#wm)" opacity="1"/></g>
<rect x="599.2" y="438.4" width="151.6" height="225.6" rx="0" fill="#dcdcde" stroke="none" stroke-width="1" />
<rect x="776" y="521" width="96" height="129" rx="0" fill="#fff" stroke="none" stroke-width="1" />
<rect x="870" y="499" width="121" height="151" rx="0" fill="#fff" stroke="none" stroke-width="1" />
<text x="616.4" y="469.5" font-size="23.5" text-anchor="start" font-weight="bold" fill="#a71d26" textLength="66.3" lengthAdjust="spacingAndGlyphs" stroke="#a71d26" stroke-width="0.45">17158</text>
<path d="M637.6 515 C633 530 628 540 628 556 L628 600 A48.3 23.5 0 0 0 724.7 600 L724.7 556 C724.7 540 720 530 715.5 515 Z" fill="#545456" stroke="#222" stroke-width="1" />
<ellipse cx="676.6" cy="515" rx="39" ry="18.9" fill="#b9b9b9" stroke="none" stroke-width="1"/>
<ellipse cx="676.6" cy="515" rx="31.2" ry="15.2" fill="none" stroke="#555" stroke-width="0.6"/>
<ellipse cx="676.5" cy="515.8" rx="21.3" ry="12.2" fill="#bfbfbf" stroke="#555" stroke-width="0.6"/>
<rect x="723" y="636.1" width="21" height="20.6" rx="0" fill="#69696c" stroke="none" stroke-width="1" />
<text x="733.5" y="651.1" font-size="11.5" text-anchor="middle" font-weight="normal" fill="#000" textLength="16" lengthAdjust="spacingAndGlyphs" >NyL</text>
<polygon points="856.78,594.17 853.46,604.37 847.15,613.05 838.47,619.36 828.27,622.68 817.53,622.68 807.33,619.36 798.65,613.05 792.34,604.37 789.02,594.17 789.02,583.43 792.34,573.23 798.65,564.55 807.33,558.24 817.53,554.92 828.27,554.92 838.47,558.24 847.15,564.55 853.46,573.23 856.78,583.43" fill="none" stroke="#1a1a1a" stroke-width="0.9" stroke-linejoin="round" />
<polygon points="837.29,592.66 833.44,599.34 826.76,603.19 819.04,603.19 812.36,599.34 808.51,592.66 808.51,584.94 812.36,578.26 819.04,574.41 826.76,574.41 833.44,578.26 837.29,584.94" fill="none" stroke="#1a1a1a" stroke-width="0.9" stroke-linejoin="round" />
<circle cx="822.9" cy="588.8" r="6.7" fill="none" stroke="#1a1a1a" stroke-width="0.9"/>
<line x1="788.3" y1="528.4" x2="788.3" y2="584.8" stroke="#1a1a1a" stroke-width="0.9" />
<line x1="857.9" y1="528.4" x2="857.9" y2="584.8" stroke="#1a1a1a" stroke-width="0.9" />
<line x1="788.3" y1="533.7" x2="857.9" y2="533.7" stroke="#1a1a1a" stroke-width="0.9" />
<polygon points="788.3,533.7 800.3,531.9 800.3,535.5" fill="#fff" stroke="#1a1a1a" stroke-width="0.8" stroke-linejoin="round" />
<polygon points="857.9,533.7 845.9,535.5 845.9,531.9" fill="#fff" stroke="#1a1a1a" stroke-width="0.8" stroke-linejoin="round" />
<text x="822.9" y="529.2" font-size="12.5" text-anchor="middle" font-weight="normal" fill="#1a1a1a" textLength="33.6" lengthAdjust="spacingAndGlyphs" >16,04</text>
<clipPath id="c4s"><path d="M895.7 549 H902.5 V590.2 H911.6 V617 H884.2 C884.2 590 886 560 895.7 549Z M942 549 H932.8 V590.2 H923.7 V617 H951.4 C951.4 590 949 560 942 549Z"/></clipPath><g clip-path="url(#c4s)">
<line x1="880" y1="470" x2="955" y2="545" stroke="#1a1a1a" stroke-width="0.85" />
<line x1="880" y1="474.6" x2="955" y2="549.6" stroke="#1a1a1a" stroke-width="0.85" />
<line x1="880" y1="479.2" x2="955" y2="554.2" stroke="#1a1a1a" stroke-width="0.85" />
<line x1="880" y1="483.8" x2="955" y2="558.8" stroke="#1a1a1a" stroke-width="0.85" />
<line x1="880" y1="488.4" x2="955" y2="563.4" stroke="#1a1a1a" stroke-width="0.85" />
<line x1="880" y1="493" x2="955" y2="568" stroke="#1a1a1a" stroke-width="0.85" />
<line x1="880" y1="497.6" x2="955" y2="572.6" stroke="#1a1a1a" stroke-width="0.85" />
<line x1="880" y1="502.2" x2="955" y2="577.2" stroke="#1a1a1a" stroke-width="0.85" />
<line x1="880" y1="506.8" x2="955" y2="581.8" stroke="#1a1a1a" stroke-width="0.85" />
<line x1="880" y1="511.4" x2="955" y2="586.4" stroke="#1a1a1a" stroke-width="0.85" />
<line x1="880" y1="516" x2="955" y2="591" stroke="#1a1a1a" stroke-width="0.85" />
<line x1="880" y1="520.6" x2="955" y2="595.6" stroke="#1a1a1a" stroke-width="0.85" />
<line x1="880" y1="525.2" x2="955" y2="600.2" stroke="#1a1a1a" stroke-width="0.85" />
<line x1="880" y1="529.8" x2="955" y2="604.8" stroke="#1a1a1a" stroke-width="0.85" />
<line x1="880" y1="534.4" x2="955" y2="609.4" stroke="#1a1a1a" stroke-width="0.85" />
<line x1="880" y1="539" x2="955" y2="614" stroke="#1a1a1a" stroke-width="0.85" />
<line x1="880" y1="543.6" x2="955" y2="618.6" stroke="#1a1a1a" stroke-width="0.85" />
<line x1="880" y1="548.2" x2="955" y2="623.2" stroke="#1a1a1a" stroke-width="0.85" />
<line x1="880" y1="552.8" x2="955" y2="627.8" stroke="#1a1a1a" stroke-width="0.85" />
<line x1="880" y1="557.4" x2="955" y2="632.4" stroke="#1a1a1a" stroke-width="0.85" />
<line x1="880" y1="562" x2="955" y2="637" stroke="#1a1a1a" stroke-width="0.85" />
<line x1="880" y1="566.6" x2="955" y2="641.6" stroke="#1a1a1a" stroke-width="0.85" />
<line x1="880" y1="571.2" x2="955" y2="646.2" stroke="#1a1a1a" stroke-width="0.85" />
<line x1="880" y1="575.8" x2="955" y2="650.8" stroke="#1a1a1a" stroke-width="0.85" />
<line x1="880" y1="580.4" x2="955" y2="655.4" stroke="#1a1a1a" stroke-width="0.85" />
<line x1="880" y1="585" x2="955" y2="660" stroke="#1a1a1a" stroke-width="0.85" />
<line x1="880" y1="589.6" x2="955" y2="664.6" stroke="#1a1a1a" stroke-width="0.85" />
<line x1="880" y1="594.2" x2="955" y2="669.2" stroke="#1a1a1a" stroke-width="0.85" />
<line x1="880" y1="598.8" x2="955" y2="673.8" stroke="#1a1a1a" stroke-width="0.85" />
<line x1="880" y1="603.4" x2="955" y2="678.4" stroke="#1a1a1a" stroke-width="0.85" />
<line x1="880" y1="608" x2="955" y2="683" stroke="#1a1a1a" stroke-width="0.85" />
<line x1="880" y1="612.6" x2="955" y2="687.6" stroke="#1a1a1a" stroke-width="0.85" />
<line x1="880" y1="617.2" x2="955" y2="692.2" stroke="#1a1a1a" stroke-width="0.85" />
<line x1="880" y1="621.8" x2="955" y2="696.8" stroke="#1a1a1a" stroke-width="0.85" />
<line x1="880" y1="626.4" x2="955" y2="701.4" stroke="#1a1a1a" stroke-width="0.85" />
<line x1="880" y1="631" x2="955" y2="706" stroke="#1a1a1a" stroke-width="0.85" />
<line x1="880" y1="635.6" x2="955" y2="710.6" stroke="#1a1a1a" stroke-width="0.85" />
<line x1="880" y1="640.2" x2="955" y2="715.2" stroke="#1a1a1a" stroke-width="0.85" />
<line x1="880" y1="644.8" x2="955" y2="719.8" stroke="#1a1a1a" stroke-width="0.85" />
<line x1="880" y1="649.4" x2="955" y2="724.4" stroke="#1a1a1a" stroke-width="0.85" />
<line x1="880" y1="654" x2="955" y2="729" stroke="#1a1a1a" stroke-width="0.85" />
<line x1="880" y1="658.6" x2="955" y2="733.6" stroke="#1a1a1a" stroke-width="0.85" />
<line x1="880" y1="663.2" x2="955" y2="738.2" stroke="#1a1a1a" stroke-width="0.85" />
<line x1="880" y1="667.8" x2="955" y2="742.8" stroke="#1a1a1a" stroke-width="0.85" />
<line x1="880" y1="672.4" x2="955" y2="747.4" stroke="#1a1a1a" stroke-width="0.85" />
<line x1="880" y1="677" x2="955" y2="752" stroke="#1a1a1a" stroke-width="0.85" />
<line x1="880" y1="681.6" x2="955" y2="756.6" stroke="#1a1a1a" stroke-width="0.85" />
<line x1="880" y1="686.2" x2="955" y2="761.2" stroke="#1a1a1a" stroke-width="0.85" />
<line x1="880" y1="690.8" x2="955" y2="765.8" stroke="#1a1a1a" stroke-width="0.85" />
<line x1="880" y1="695.4" x2="955" y2="770.4" stroke="#1a1a1a" stroke-width="0.85" />
</g>
<path d="M895.7 549 H942 C949 560 951.4 590 951.4 617 H884.2 C884.2 590 886 560 895.7 549Z" fill="none" stroke="#1a1a1a" stroke-width="1.2" />
<path d="M902.5 549 V590.2 H932.8 V549 M911.6 590.2 V617 M923.7 590.2 V617" fill="none" stroke="#1a1a1a" stroke-width="1.2" />
<line x1="902.5" y1="511.7" x2="902.5" y2="549" stroke="#1a1a1a" stroke-width="0.9" />
<line x1="932.8" y1="511.7" x2="932.8" y2="549" stroke="#1a1a1a" stroke-width="0.9" />
<line x1="902.5" y1="516.8" x2="932.8" y2="516.8" stroke="#1a1a1a" stroke-width="0.9" />
<polygon points="902.5,516.8 913.5,515.1 913.5,518.5" fill="#fff" stroke="#1a1a1a" stroke-width="0.8" stroke-linejoin="round" />
<polygon points="932.8,516.8 921.8,518.5 921.8,515.1" fill="#fff" stroke="#1a1a1a" stroke-width="0.8" stroke-linejoin="round" />
<text x="917.8" y="510.9" font-size="12.5" text-anchor="middle" font-weight="normal" fill="#1a1a1a" textLength="16.1" lengthAdjust="spacingAndGlyphs" >Ø7</text>
<line x1="943.3" y1="549" x2="987.6" y2="549" stroke="#1a1a1a" stroke-width="0.9" />
<line x1="956.2" y1="617" x2="987.6" y2="617" stroke="#1a1a1a" stroke-width="0.9" />
<line x1="983.1" y1="549" x2="983.1" y2="617" stroke="#1a1a1a" stroke-width="0.9" />
<polygon points="983.1,549 984.9,561 981.3,561" fill="#fff" stroke="#1a1a1a" stroke-width="0.8" stroke-linejoin="round" />
<polygon points="983.1,617 981.3,605 984.9,605" fill="#fff" stroke="#1a1a1a" stroke-width="0.8" stroke-linejoin="round" />
<text x="977.3" y="582.9" font-size="12.5" text-anchor="middle" font-weight="normal" fill="#1a1a1a" textLength="23.8" lengthAdjust="spacingAndGlyphs" transform="rotate(-90 977.3 582.9)" >16,3</text>
<line x1="911.6" y1="622.4" x2="911.6" y2="645.2" stroke="#1a1a1a" stroke-width="0.9" />
<line x1="923.7" y1="622.4" x2="923.7" y2="645.2" stroke="#1a1a1a" stroke-width="0.9" />
<line x1="890.1" y1="640.7" x2="944.6" y2="640.7" stroke="#1a1a1a" stroke-width="0.9" />
<polygon points="911.6,640.7 900.6,642.4 900.6,639" fill="#fff" stroke="#1a1a1a" stroke-width="0.8" stroke-linejoin="round" />
<polygon points="923.7,640.7 934.7,639 934.7,642.4" fill="#fff" stroke="#1a1a1a" stroke-width="0.8" stroke-linejoin="round" />
<text x="917.8" y="637.7" font-size="12.5" text-anchor="middle" font-weight="normal" fill="#1a1a1a" >3</text>
<polygon points="1058.3,620.2 1066.1,611.7 1066.1,641.6 1058.3,650.1" fill="#fff" stroke="#000" stroke-width="1.5" stroke-linejoin="round" />
<polygon points="1023.9,620.2 1031.7,611.7 1066.1,611.7 1058.3,620.2" fill="#fff" stroke="#000" stroke-width="1.5" stroke-linejoin="round" fill-opacity="0.55"/>
<rect x="1023.9" y="620.2" width="34.4" height="29.9" rx="0" fill="#fff" stroke="#000" stroke-width="1.5" />
<line x1="1041.6" y1="620.2" x2="1046.28" y2="611.7" stroke="#000" stroke-width="1.5" />
<text x="1041.1" y="640.01" font-size="13.5" text-anchor="middle" font-weight="bold" fill="#000" stroke="#000" stroke-width="0.5">4000</text>
<g transform="translate(146 32.3)"><rect x="453.2" y="406.1" width="151.6" height="225.6" fill="url(#wm2)" opacity="0.17" style="mix-blend-mode:multiply"/></g>
<g transform="translate(146 32.3)"><rect x="630" y="488.7" width="96" height="129" fill="url(#wm2)" opacity="0.22" style="mix-blend-mode:multiply"/></g>
<g transform="translate(146 32.3)"><rect x="724" y="466.7" width="121" height="151" fill="url(#wm2)" opacity="0.22" style="mix-blend-mode:multiply"/></g>
<path d="M599.2 438.4H1079.5V664H599.2Z M601.2 440.6V662H1076.7V440.6Z" fill="#dcdcde" fill-rule="evenodd"/>
<!-- card 5 -->
<rect x="85.2" y="682.3" width="479.1" height="226.1" rx="0" fill="#fff" stroke="none" stroke-width="1" />
<g transform="translate(178.2 34.8)"><rect x="-93" y="647.5" width="479.1" height="226.1" fill="url(#wm)" opacity="1"/></g>
<rect x="85.2" y="682.3" width="151.6" height="226.1" rx="0" fill="#dcdcde" stroke="none" stroke-width="1" />
<rect x="252" y="738" width="270" height="140" rx="0" fill="#fff" stroke="none" stroke-width="1" />
<text x="101.4" y="713.8" font-size="23.5" text-anchor="start" font-weight="bold" fill="#a71d26" textLength="66.3" lengthAdjust="spacingAndGlyphs" stroke="#a71d26" stroke-width="0.45">17093</text>
<text x="101.4" y="742.6" font-size="23.5" text-anchor="start" font-weight="bold" fill="#a71d26" textLength="66.3" lengthAdjust="spacingAndGlyphs" stroke="#a71d26" stroke-width="0.45">17148</text>
<path d="M105.2 793 Q105.2 789.4 108.5 787.6 L148.5 762.6 Q151.4 761.1 154.5 762.8 L203 789.6 Q205.9 791.5 205.9 795 V849.2 L160.8 873.4 L105.2 840.8Z" fill="#555557" stroke="#222" stroke-width="1" />
<path d="M107.5 788.2 L148.5 762.6 Q151.4 761.1 154.5 762.8 L203 789.6 Q204.5 790.8 203 791.9 L163.5 812.2 Q160.8 813.5 158 812.3 L107.5 790.6 Q105.8 789.4 107.5 788.2Z" fill="#b7b7b7" stroke="#6a6a6a" stroke-width="0.5" />
<path d="M113 790 L150 767.5 Q151.4 766.8 153 767.6 L198 792" fill="none" stroke="#8a8a8a" stroke-width="0.5" />
<line x1="160.8" y1="815" x2="160.8" y2="872" stroke="#4a4a4a" stroke-width="0.6" />
<path d="M169 822 C172 812 182 808 191 812 L211.5 824.5 L190.5 863.5 L171 853 C165 848 165 832 169 822Z" fill="#b4b4b4" stroke="#222" stroke-width="1" />
<path d="M183 813.5 L197 820 M171.5 845.5 L184 852.5" fill="none" stroke="#666" stroke-width="1.2" />
<ellipse cx="199.8" cy="843.2" rx="15.3" ry="22" fill="#555557" stroke="none" stroke-width="1" transform="rotate(22 199.8 843.2)"/>
<ellipse cx="199.8" cy="843.2" rx="10" ry="16.5" fill="none" stroke="#3f3f3f" stroke-width="0.6" transform="rotate(22 199.8 843.2)"/>
<rect x="209.1" y="880.3" width="21" height="21.4" rx="0" fill="#69696c" stroke="none" stroke-width="1" />
<text x="219.6" y="896.1" font-size="11.5" text-anchor="middle" font-weight="normal" fill="#000" textLength="16" lengthAdjust="spacingAndGlyphs" >NyL</text>
<path d="M259.4 812.9 V760.5 Q259.4 753.7 266.2 753.7 H307.1 Q313.9 753.7 313.9 760.5 V812.9 Z" fill="none" stroke="#1a1a1a" stroke-width="1.2" />
<path d="M268.3 812.9 V831 Q268.3 833.3 270.6 833.3 H302.2 Q304.5 833.3 304.5 831 V812.9" fill="none" stroke="#1a1a1a" stroke-width="1.2" />
<path d="M284.9 812.9 V827.6 H287.6 V812.9" fill="none" stroke="#1a1a1a" stroke-width="0.9" />
<line x1="311.8" y1="753.7" x2="353.4" y2="753.7" stroke="#1a1a1a" stroke-width="0.9" />
<line x1="318" y1="812.9" x2="353.4" y2="812.9" stroke="#1a1a1a" stroke-width="0.9" />
<line x1="347.3" y1="753.7" x2="347.3" y2="812.9" stroke="#1a1a1a" stroke-width="0.9" />
<polygon points="347.3,753.7 349.1,765.7 345.5,765.7" fill="#fff" stroke="#1a1a1a" stroke-width="0.8" stroke-linejoin="round" />
<polygon points="347.3,812.9 345.5,800.9 349.1,800.9" fill="#fff" stroke="#1a1a1a" stroke-width="0.8" stroke-linejoin="round" />
<text x="344.4" y="782.8" font-size="12.5" text-anchor="middle" font-weight="normal" fill="#1a1a1a" textLength="13.6" lengthAdjust="spacingAndGlyphs" transform="rotate(-90 344.4 782.8)" >13</text>
<line x1="268.3" y1="837.8" x2="268.3" y2="872.2" stroke="#1a1a1a" stroke-width="0.9" />
<line x1="304.5" y1="837.8" x2="304.5" y2="872.2" stroke="#1a1a1a" stroke-width="0.9" />
<line x1="268.3" y1="866.6" x2="362.8" y2="866.6" stroke="#1a1a1a" stroke-width="0.9" />
<polygon points="268.3,866.6 280.3,864.8 280.3,868.4" fill="#fff" stroke="#1a1a1a" stroke-width="0.8" stroke-linejoin="round" />
<polygon points="304.5,866.6 292.5,868.4 292.5,864.8" fill="#fff" stroke="#1a1a1a" stroke-width="0.8" stroke-linejoin="round" />
<text x="317.2" y="860.1" font-size="12.5" text-anchor="start" font-weight="normal" fill="#1a1a1a" textLength="28.7" lengthAdjust="spacingAndGlyphs" >Ø7,8</text>
<rect x="416.6" y="786.3" width="55.1" height="53.7" rx="6.5" fill="none" stroke="#1a1a1a" stroke-width="1.2" />
<polygon points="461.48,816.98 456.8,825.1 448.68,829.78 439.32,829.78 431.2,825.1 426.52,816.98 426.52,807.62 431.2,799.5 439.32,794.82 448.68,794.82 456.8,799.5 461.48,807.62" fill="none" stroke="#1a1a1a" stroke-width="1.2" stroke-linejoin="round" />
<circle cx="444" cy="812.3" r="10.9" fill="none" stroke="#1a1a1a" stroke-width="1.2"/>
<line x1="416.6" y1="746" x2="416.6" y2="786.3" stroke="#1a1a1a" stroke-width="0.9" />
<line x1="471.7" y1="746" x2="471.7" y2="786.3" stroke="#1a1a1a" stroke-width="0.9" />
<line x1="416.6" y1="751.9" x2="471.7" y2="751.9" stroke="#1a1a1a" stroke-width="0.9" />
<polygon points="416.6,751.9 428.6,750.1 428.6,753.7" fill="#fff" stroke="#1a1a1a" stroke-width="0.8" stroke-linejoin="round" />
<polygon points="471.7,751.9 459.7,753.7 459.7,750.1" fill="#fff" stroke="#1a1a1a" stroke-width="0.8" stroke-linejoin="round" />
<text x="444" y="749.2" font-size="12.5" text-anchor="middle" font-weight="normal" fill="#1a1a1a" textLength="13.7" lengthAdjust="spacingAndGlyphs" >12</text>
<line x1="469" y1="786.3" x2="510" y2="786.3" stroke="#1a1a1a" stroke-width="0.9" />
<line x1="469" y1="840" x2="510" y2="840" stroke="#1a1a1a" stroke-width="0.9" />
<line x1="504.4" y1="786.3" x2="504.4" y2="840" stroke="#1a1a1a" stroke-width="0.9" />
<polygon points="504.4,786.3 506.2,798.3 502.6,798.3" fill="#fff" stroke="#1a1a1a" stroke-width="0.8" stroke-linejoin="round" />
<polygon points="504.4,840 502.6,828 506.2,828" fill="#fff" stroke="#1a1a1a" stroke-width="0.8" stroke-linejoin="round" />
<text x="502" y="812.3" font-size="12.5" text-anchor="middle" font-weight="normal" fill="#1a1a1a" textLength="13.6" lengthAdjust="spacingAndGlyphs" transform="rotate(-90 502 812.3)" >12</text>
<line x1="432.7" y1="816" x2="432.7" y2="872.2" stroke="#1a1a1a" stroke-width="0.9" />
<line x1="454.7" y1="816" x2="454.7" y2="872.2" stroke="#1a1a1a" stroke-width="0.9" />
<line x1="376.3" y1="866.6" x2="477" y2="866.6" stroke="#1a1a1a" stroke-width="0.9" />
<polygon points="432.7,866.6 420.7,868.4 420.7,864.8" fill="#fff" stroke="#1a1a1a" stroke-width="0.8" stroke-linejoin="round" />
<polygon points="454.7,866.6 466.7,864.8 466.7,868.4" fill="#fff" stroke="#1a1a1a" stroke-width="0.8" stroke-linejoin="round" />
<text x="387" y="860.1" font-size="12.5" text-anchor="start" font-weight="normal" fill="#1a1a1a" textLength="19.6" lengthAdjust="spacingAndGlyphs" >4,9</text>
<polygon points="541.5,862.8 549.5,854.5 549.5,884.6 541.5,892.9" fill="#fff" stroke="#000" stroke-width="1.5" stroke-linejoin="round" />
<polygon points="507.4,862.8 515.4,854.5 549.5,854.5 541.5,862.8" fill="#fff" stroke="#000" stroke-width="1.5" stroke-linejoin="round" fill-opacity="0.55"/>
<rect x="507.4" y="862.8" width="34.1" height="30.1" rx="0" fill="#fff" stroke="#000" stroke-width="1.5" />
<line x1="524.95" y1="862.8" x2="529.75" y2="854.5" stroke="#000" stroke-width="1.5" />
<text x="524.45" y="882.71" font-size="13.5" text-anchor="middle" font-weight="bold" fill="#000" stroke="#000" stroke-width="0.5">2000</text>
<g transform="translate(178.2 34.8)"><rect x="-93" y="647.5" width="151.6" height="226.1" fill="url(#wm2)" opacity="0.17" style="mix-blend-mode:multiply"/></g>
<g transform="translate(178.2 34.8)"><rect x="73.8" y="703.2" width="270" height="140" fill="url(#wm2)" opacity="0.22" style="mix-blend-mode:multiply"/></g>
<path d="M85.2 682.3H564.3V908.4H85.2Z M87.2 684.5V906.4H561.5V684.5Z" fill="#dcdcde" fill-rule="evenodd"/>
<!-- card 6 -->
<rect x="599.2" y="682.3" width="480.4" height="226.1" rx="0" fill="#fff" stroke="none" stroke-width="1" />
<g transform="translate(146 32.7)"><rect x="453.2" y="649.6" width="480.4" height="226.1" fill="url(#wm)" opacity="1"/></g>
<rect x="599.2" y="682.3" width="151.6" height="226.1" rx="0" fill="#dcdcde" stroke="none" stroke-width="1" />
<rect x="826" y="727" width="137" height="166" rx="0" fill="#fff" stroke="none" stroke-width="1" />
<text x="616.4" y="714.5" font-size="23.5" text-anchor="start" font-weight="bold" fill="#a71d26" textLength="66.3" lengthAdjust="spacingAndGlyphs" stroke="#a71d26" stroke-width="0.45">17059</text>
<path d="M613.5 793 L682 752 Q684.2 751 686.5 752.2 L735 778.8 Q736.7 780 736.7 782 V817.7 L669 857.6 Q666.4 858.7 663.8 857.4 L613.5 829.3Z" fill="#545456" stroke="#222" stroke-width="1" />
<path d="M615 790.6 L682 752 Q684.2 751 686.5 752.2 L735 778.8 Q736.9 780 735 781.2 L669 820.6 Q666.4 821.9 663.8 820.8 L615 792.4 Q613.4 791.5 615 790.6Z" fill="#b9b9b9" stroke="#6a6a6a" stroke-width="0.5" />
<line x1="666.4" y1="824" x2="666.4" y2="857" stroke="#474747" stroke-width="0.6" />
<ellipse cx="674.8" cy="786.3" rx="20" ry="11.5" fill="#bcbcbc" stroke="#4a4a4a" stroke-width="0.6"/>
<ellipse cx="674.8" cy="793.2" rx="8.8" ry="4.2" fill="#555" stroke="none" stroke-width="1"/>
<rect x="723.7" y="880.3" width="20.3" height="20.7" rx="0" fill="#69696c" stroke="none" stroke-width="1" />
<text x="733.85" y="895.4" font-size="11.5" text-anchor="middle" font-weight="normal" fill="#000" textLength="16" lengthAdjust="spacingAndGlyphs" >NyL</text>
<clipPath id="c6s"><path d="M845.3 733.6 H871.6 L879.3 741.2 V769.4 H874.6 V741.2 L871.6 738.3 H850 V769.4 H845.3Z M926.8 733.6 H900.5 L893.5 741.2 V769.4 H897.4 V741.2 L900.5 738.3 H922 V769.4 H926.8Z"/></clipPath><g clip-path="url(#c6s)">
<line x1="800" y1="780" x2="850" y2="730" stroke="#2a2a2a" stroke-width="0.8" />
<line x1="805.4" y1="780" x2="855.4" y2="730" stroke="#2a2a2a" stroke-width="0.8" />
<line x1="810.8" y1="780" x2="860.8" y2="730" stroke="#2a2a2a" stroke-width="0.8" />
<line x1="816.2" y1="780" x2="866.2" y2="730" stroke="#2a2a2a" stroke-width="0.8" />
<line x1="821.6" y1="780" x2="871.6" y2="730" stroke="#2a2a2a" stroke-width="0.8" />
<line x1="827" y1="780" x2="877" y2="730" stroke="#2a2a2a" stroke-width="0.8" />
<line x1="832.4" y1="780" x2="882.4" y2="730" stroke="#2a2a2a" stroke-width="0.8" />
<line x1="837.8" y1="780" x2="887.8" y2="730" stroke="#2a2a2a" stroke-width="0.8" />
<line x1="843.2" y1="780" x2="893.2" y2="730" stroke="#2a2a2a" stroke-width="0.8" />
<line x1="848.6" y1="780" x2="898.6" y2="730" stroke="#2a2a2a" stroke-width="0.8" />
<line x1="854" y1="780" x2="904" y2="730" stroke="#2a2a2a" stroke-width="0.8" />
<line x1="859.4" y1="780" x2="909.4" y2="730" stroke="#2a2a2a" stroke-width="0.8" />
<line x1="864.8" y1="780" x2="914.8" y2="730" stroke="#2a2a2a" stroke-width="0.8" />
<line x1="870.2" y1="780" x2="920.2" y2="730" stroke="#2a2a2a" stroke-width="0.8" />
<line x1="875.6" y1="780" x2="925.6" y2="730" stroke="#2a2a2a" stroke-width="0.8" />
<line x1="881" y1="780" x2="931" y2="730" stroke="#2a2a2a" stroke-width="0.8" />
<line x1="886.4" y1="780" x2="936.4" y2="730" stroke="#2a2a2a" stroke-width="0.8" />
<line x1="891.8" y1="780" x2="941.8" y2="730" stroke="#2a2a2a" stroke-width="0.8" />
<line x1="897.2" y1="780" x2="947.2" y2="730" stroke="#2a2a2a" stroke-width="0.8" />
<line x1="902.6" y1="780" x2="952.6" y2="730" stroke="#2a2a2a" stroke-width="0.8" />
<line x1="908" y1="780" x2="958" y2="730" stroke="#2a2a2a" stroke-width="0.8" />
<line x1="913.4" y1="780" x2="963.4" y2="730" stroke="#2a2a2a" stroke-width="0.8" />
<line x1="918.8" y1="780" x2="968.8" y2="730" stroke="#2a2a2a" stroke-width="0.8" />
<line x1="924.2" y1="780" x2="974.2" y2="730" stroke="#2a2a2a" stroke-width="0.8" />
<line x1="929.6" y1="780" x2="979.6" y2="730" stroke="#2a2a2a" stroke-width="0.8" />
<line x1="935" y1="780" x2="985" y2="730" stroke="#2a2a2a" stroke-width="0.8" />
<line x1="940.4" y1="780" x2="990.4" y2="730" stroke="#2a2a2a" stroke-width="0.8" />
<line x1="945.8" y1="780" x2="995.8" y2="730" stroke="#2a2a2a" stroke-width="0.8" />
<line x1="951.2" y1="780" x2="1001.2" y2="730" stroke="#2a2a2a" stroke-width="0.8" />
<line x1="956.6" y1="780" x2="1006.6" y2="730" stroke="#2a2a2a" stroke-width="0.8" />
</g>
<rect x="845.3" y="733.6" width="81.5" height="35.8" rx="0" fill="none" stroke="#2a2a2a" stroke-width="1" />
<path d="M850 769.4 V738.3 H871.6 L874.6 741.2 V769.4 M922 769.4 V738.3 H900.5 L897.4 741.2 V769.4 M871.6 733.6 L879.3 741.2 V769.4 M900.5 733.6 L893.5 741.2 V769.4 M879.3 741.2 H893.5" fill="none" stroke="#2a2a2a" stroke-width="0.9" />
<line x1="929.9" y1="733.6" x2="953.9" y2="733.6" stroke="#2a2a2a" stroke-width="0.8" />
<line x1="929.9" y1="769.4" x2="953.9" y2="769.4" stroke="#2a2a2a" stroke-width="0.8" />
<line x1="950.3" y1="733.6" x2="950.3" y2="769.4" stroke="#2a2a2a" stroke-width="0.8" />
<polygon points="950.3,733.6 951.6,741.6 949,741.6" fill="#fff" stroke="#2a2a2a" stroke-width="0.8" stroke-linejoin="round" />
<polygon points="950.3,769.4 949,761.4 951.6,761.4" fill="#fff" stroke="#2a2a2a" stroke-width="0.8" stroke-linejoin="round" />
<text x="947.3" y="748.5" font-size="8.5" text-anchor="middle" font-weight="normal" fill="#2a2a2a" transform="rotate(-90 947.3 748.5)" >11,5</text>
<line x1="874.6" y1="772.2" x2="874.6" y2="790" stroke="#2a2a2a" stroke-width="0.8" />
<line x1="897.4" y1="772.2" x2="897.4" y2="790" stroke="#2a2a2a" stroke-width="0.8" />
<line x1="874.6" y1="786.5" x2="934.6" y2="786.5" stroke="#2a2a2a" stroke-width="0.8" />
<polygon points="874.6,786.5 882.6,785.2 882.6,787.8" fill="#fff" stroke="#2a2a2a" stroke-width="0.8" stroke-linejoin="round" />
<polygon points="897.4,786.5 889.4,787.8 889.4,785.2" fill="#fff" stroke="#2a2a2a" stroke-width="0.8" stroke-linejoin="round" />
<text x="905.9" y="783" font-size="8.8" text-anchor="start" font-weight="normal" fill="#2a2a2a" textLength="17" lengthAdjust="spacingAndGlyphs" >7,35</text>
<line x1="845.3" y1="807" x2="845.3" y2="825.8" stroke="#2a2a2a" stroke-width="0.8" />
<line x1="926.8" y1="807" x2="926.8" y2="825.8" stroke="#2a2a2a" stroke-width="0.8" />
<line x1="845.3" y1="810.5" x2="926.8" y2="810.5" stroke="#2a2a2a" stroke-width="0.8" />
<polygon points="845.3,810.5 853.3,809.2 853.3,811.8" fill="#fff" stroke="#2a2a2a" stroke-width="0.8" stroke-linejoin="round" />
<polygon points="926.8,810.5 918.8,811.8 918.8,809.2" fill="#fff" stroke="#2a2a2a" stroke-width="0.8" stroke-linejoin="round" />
<text x="885.2" y="806.5" font-size="8.8" text-anchor="middle" font-weight="normal" fill="#2a2a2a" textLength="17" lengthAdjust="spacingAndGlyphs" >26,5</text>
<rect x="845.3" y="825.8" width="81.5" height="61.6" rx="5" fill="none" stroke="#2a2a2a" stroke-width="1" />
<rect x="850.4" y="830" width="33.6" height="24.5" rx="2" fill="none" stroke="#2a2a2a" stroke-width="0.8" stroke-dasharray="3.2 1.6"/>
<rect x="888.3" y="830" width="34.5" height="24.5" rx="2" fill="none" stroke="#2a2a2a" stroke-width="0.8" stroke-dasharray="3.2 1.6"/>
<rect x="850.4" y="858.2" width="33.6" height="24.5" rx="2" fill="none" stroke="#2a2a2a" stroke-width="0.8" stroke-dasharray="3.2 1.6"/>
<rect x="888.3" y="858.2" width="34.5" height="24.5" rx="2" fill="none" stroke="#2a2a2a" stroke-width="0.8" stroke-dasharray="3.2 1.6"/>
<circle cx="886.4" cy="856.3" r="16.5" fill="#fff" stroke="#2a2a2a" stroke-width="0.8"/>
<circle cx="886.4" cy="856.3" r="14.8" fill="none" stroke="#2a2a2a" stroke-width="0.7" stroke-dasharray="3.2 1.6"/>
<polygon points="898.86,859.64 895.52,865.42 889.74,868.76 883.06,868.76 877.28,865.42 873.94,859.64 873.94,852.96 877.28,847.18 883.06,843.84 889.74,843.84 895.52,847.18 898.86,852.96" fill="none" stroke="#2a2a2a" stroke-width="0.8" stroke-linejoin="round" />
<circle cx="886.4" cy="856.3" r="6.6" fill="none" stroke="#2a2a2a" stroke-width="0.8"/>
<line x1="884" y1="841" x2="884" y2="830" stroke="#2a2a2a" stroke-width="0.8" stroke-dasharray="3.2 1.6"/>
<line x1="888.3" y1="841" x2="888.3" y2="830" stroke="#2a2a2a" stroke-width="0.8" stroke-dasharray="3.2 1.6"/>
<line x1="884" y1="872" x2="884" y2="882.7" stroke="#2a2a2a" stroke-width="0.8" stroke-dasharray="3.2 1.6"/>
<line x1="888.3" y1="872" x2="888.3" y2="882.7" stroke="#2a2a2a" stroke-width="0.8" stroke-dasharray="3.2 1.6"/>
<line x1="840" y1="856.3" x2="932.2" y2="856.3" stroke="#2a2a2a" stroke-width="0.9" />
<line x1="839" y1="856.3" x2="846.5" y2="856.3" stroke="#111" stroke-width="2.2" />
<line x1="925.5" y1="856.3" x2="933" y2="856.3" stroke="#111" stroke-width="2.2" />
<line x1="842.4" y1="876.3" x2="842.4" y2="860" stroke="#2a2a2a" stroke-width="0.9" stroke-dasharray="3.2 1.6"/>
<line x1="929.4" y1="876.3" x2="929.4" y2="860" stroke="#2a2a2a" stroke-width="0.9" stroke-dasharray="3.2 1.6"/>
<polygon points="842.4,857 843.8,865 841,865" fill="#111" stroke="none" stroke-width="1" stroke-linejoin="round" />
<polygon points="929.4,857 930.8,865 928,865" fill="#111" stroke="none" stroke-width="1" stroke-linejoin="round" />
<text x="829" y="870.6" font-size="11.5" text-anchor="start" font-weight="bold" fill="#111" >A</text>
<text x="935.5" y="870.6" font-size="11.5" text-anchor="start" font-weight="bold" fill="#111" >A</text>
<line x1="926.8" y1="825.8" x2="965.1" y2="825.8" stroke="#2a2a2a" stroke-width="0.8" />
<line x1="926.8" y1="887.4" x2="965.1" y2="887.4" stroke="#2a2a2a" stroke-width="0.8" />
<line x1="961.6" y1="825.8" x2="961.6" y2="887.4" stroke="#2a2a2a" stroke-width="0.8" />
<polygon points="961.6,825.8 962.9,833.8 960.3,833.8" fill="#fff" stroke="#2a2a2a" stroke-width="0.8" stroke-linejoin="round" />
<polygon points="961.6,887.4 960.3,879.4 962.9,879.4" fill="#fff" stroke="#2a2a2a" stroke-width="0.8" stroke-linejoin="round" />
<text x="959.2" y="856.3" font-size="8.5" text-anchor="middle" font-weight="normal" fill="#2a2a2a" transform="rotate(-90 959.2 856.3)" >20</text>
<polygon points="1055.7,865 1063.9,856.8 1063.9,887.6 1055.7,895.8" fill="#fff" stroke="#000" stroke-width="1.5" stroke-linejoin="round" />
<polygon points="1021.1,865 1029.3,856.8 1063.9,856.8 1055.7,865" fill="#fff" stroke="#000" stroke-width="1.5" stroke-linejoin="round" fill-opacity="0.55"/>
<rect x="1021.1" y="865" width="34.6" height="30.8" rx="0" fill="#fff" stroke="#000" stroke-width="1.5" />
<line x1="1038.9" y1="865" x2="1043.82" y2="856.8" stroke="#000" stroke-width="1.5" />
<text x="1038.4" y="885.26" font-size="13.5" text-anchor="middle" font-weight="bold" fill="#000" stroke="#000" stroke-width="0.5">2000</text>
<g transform="translate(146 32.7)"><rect x="453.2" y="649.6" width="151.6" height="226.1" fill="url(#wm2)" opacity="0.17" style="mix-blend-mode:multiply"/></g>
<g transform="translate(146 32.7)"><rect x="680" y="694.3" width="137" height="166" fill="url(#wm2)" opacity="0.22" style="mix-blend-mode:multiply"/></g>
<path d="M599.2 682.3H1079.6V908.4H599.2Z M601.2 684.5V906.4H1076.8V684.5Z" fill="#dcdcde" fill-rule="evenodd"/>
<!-- card 7 -->
<rect x="85.2" y="926.4" width="479" height="225.6" rx="0" fill="#fff" stroke="none" stroke-width="1" />
<g transform="translate(178.2 36.3)"><rect x="-93" y="890.1" width="479" height="225.6" fill="url(#wm)" opacity="1"/></g>
<rect x="85.2" y="926.4" width="151.6" height="225.6" rx="0" fill="#dcdcde" stroke="none" stroke-width="1" />
<rect x="249.7" y="960.5" width="287.3" height="150.2" rx="0" fill="#f8f8f8" stroke="none" stroke-width="1" />
<text x="97.8" y="953.7" font-size="23.5" text-anchor="start" font-weight="bold" fill="#a71d26" textLength="66.3" lengthAdjust="spacingAndGlyphs" stroke="#a71d26" stroke-width="0.45">21010</text>
<defs><linearGradient id="ph514m" x1="0" y1="0" x2="1" y2="0"><stop offset="0" stop-color="#8e9092"/><stop offset="0.06" stop-color="#7e8082"/><stop offset="0.085" stop-color="#bcbec0"/><stop offset="0.13" stop-color="#a8aaac"/><stop offset="0.45" stop-color="#aeb0b2"/><stop offset="0.6" stop-color="#c4c4c6"/><stop offset="0.8" stop-color="#b2b4b5"/><stop offset="0.93" stop-color="#a8aaac"/><stop offset="1" stop-color="#8c8e90"/></linearGradient><linearGradient id="ph514f" x1="0" y1="0" x2="0" y2="1"><stop offset="0" stop-color="#bababa"/><stop offset="0.35" stop-color="#9e9e9e"/><stop offset="0.75" stop-color="#b2b2b2"/><stop offset="1" stop-color="#929292"/></linearGradient><filter id="ph514b" x="-0.1" y="-0.1" width="1.2" height="1.2" color-interpolation-filters="sRGB"><feTurbulence type="fractalNoise" baseFrequency="0.13" numOctaves="2" seed="7" result="t"/><feColorMatrix in="t" type="matrix" values="0.45 0 0 0 0.74  0.45 0 0 0 0.74  0.45 0 0 0 0.74  0 0 0 0 1" result="g"/><feComposite in="g" in2="SourceGraphic" operator="in" result="gn"/><feBlend in="SourceGraphic" in2="gn" mode="multiply" result="m"/><feGaussianBlur in="m" stdDeviation="0.55"/></filter></defs>
<g filter="url(#ph514b)">
<path d="M123.01 1045.33 H191.8 V1093.35 Q157.63 1102.58 123.01 1093.35Z" fill="url(#ph514m)" stroke="none" stroke-width="1" />
<polygon points="156.71,1046.26 160.4,1046.26 160.4,1097.96 156.71,1097.96" fill="#b9b9b9" stroke="none" stroke-width="1" stroke-linejoin="round" />
<polygon points="186.26,1046.26 191.8,1046.26 191.8,1093.81 186.26,1095.19" fill="#a7a7a7" stroke="none" stroke-width="1" stroke-linejoin="round" />
<polygon points="123.01,1045.33 191.8,1045.33 191.8,1048.56 123.01,1048.56" fill="#8c8c8c" stroke="none" stroke-width="1" stroke-linejoin="round" />
<polygon points="171.94,1053.64 185.79,1053.18 186.26,1087.81 183.49,1087.81 183.02,1058.72 176.56,1059.64 176.1,1091.5 171.94,1091.96" fill="#4a4a4a" stroke="none" stroke-width="1" stroke-linejoin="round" />
<polygon points="172.87,1054.1 184.87,1053.64 184.87,1057.34 173.33,1058.26" fill="#222" stroke="none" stroke-width="1" stroke-linejoin="round" />
<polygon points="157.63,1087.35 176.1,1087.35 176.1,1092.89 157.63,1092.89" fill="#555" stroke="none" stroke-width="1" stroke-linejoin="round" />
<polygon points="159.02,1089.19 171.48,1089.19 171.48,1092.42 159.02,1092.42" fill="#2e2e2e" stroke="none" stroke-width="1" stroke-linejoin="round" />
<polygon points="184.22,1080.88 190.41,1080.88 190.41,1091.04 184.22,1091.04" fill="#555" stroke="none" stroke-width="1" stroke-linejoin="round" />
<polygon points="176.56,1060.11 183.02,1059.18 183.3,1085.04 176.56,1086.88" fill="#c6c6c6" stroke="none" stroke-width="1" stroke-linejoin="round" />
<ellipse cx="158.09" cy="1032.87" rx="40.63" ry="4.62" fill="#b4b4b4" stroke="none" stroke-width="1"/>
<path d="M117.47 1032.87 V1043.49 Q158.09 1050.87 198.72 1043.49 V1032.87Z" fill="url(#ph514f)" stroke="none" stroke-width="1" />
<ellipse cx="158.09" cy="1032.87" rx="40.63" ry="4.62" fill="#bababa" stroke="none" stroke-width="1"/>
<polygon points="132.7,986.24 181.64,986.24 183.49,1036.1 131.78,1036.1" fill="#1b1c1e" stroke="none" stroke-width="1" stroke-linejoin="round" />
<polygon points="129.19,989.01 184.41,993.62 184.59,1002.86 129.38,996.86" fill="#222326" stroke="none" stroke-width="1" stroke-linejoin="round" />
<polygon points="129.19,1004.7 184.41,1009.32 184.59,1018.55 129.38,1012.55" fill="#222326" stroke="none" stroke-width="1" stroke-linejoin="round" />
<polygon points="129.19,1019.02 184.41,1023.63 184.59,1032.87 129.38,1026.87" fill="#222326" stroke="none" stroke-width="1" stroke-linejoin="round" />
<polygon points="132.7,995.93 180.72,998.7 180.72,1001.47 132.7,998.24" fill="#111214" stroke="none" stroke-width="1" stroke-linejoin="round" />
<polygon points="132.7,1011.17 180.72,1013.94 180.72,1016.71 132.7,1013.48" fill="#111214" stroke="none" stroke-width="1" stroke-linejoin="round" />
<polygon points="132.7,1025.48 180.72,1028.25 180.72,1031.02 132.7,1027.79" fill="#111214" stroke="none" stroke-width="1" stroke-linejoin="round" />
<ellipse cx="157.63" cy="1033.33" rx="26.32" ry="3.51" fill="#1b1c1e" stroke="none" stroke-width="1"/>
<path d="M115.16 980.7 C116.08 972.39 197.34 972.39 197.8 980.7 C197.34 984.85 188.1 986.05 183.49 987.62 H129.93 C125.31 986.05 115.62 984.85 115.16 980.7Z" fill="#1c1d1f" stroke="none" stroke-width="1" />
<ellipse cx="156.52" cy="977.93" rx="39.24" ry="3.51" fill="#2e2f31" stroke="none" stroke-width="1"/>
<ellipse cx="156.52" cy="976.27" rx="15.7" ry="1.48" fill="#101113" stroke="none" stroke-width="1"/>
</g>
<rect x="209.7" y="1124.1" width="20.4" height="20.6" rx="0" fill="#69696c" stroke="none" stroke-width="1" />
<text x="219.9" y="1139.1" font-size="11.5" text-anchor="middle" font-weight="normal" fill="#000" textLength="16" lengthAdjust="spacingAndGlyphs" >NyL</text>
<rect x="299" y="1007.6" width="45.5" height="64.3" rx="0" fill="none" stroke="#4a3736" stroke-width="1.2" />
<path d="M299 1007.6 L344.5 1004.8 M299 1071.9 L344.5 1075" fill="none" stroke="#4a3736" stroke-width="1" />
<rect x="344.5" y="1002.6" width="12.7" height="75.4" rx="0" fill="none" stroke="#4a3736" stroke-width="1.4" />
<line x1="299" y1="1013.7" x2="357" y2="1013.7" stroke="#4a3736" stroke-width="1" stroke-dasharray="4 2.2"/>
<line x1="299" y1="1065.8" x2="357" y2="1065.8" stroke="#4a3736" stroke-width="1" stroke-dasharray="4 2.2"/>
<path d="M345.3 1013.7 L337.2 1065.8 M347.7 1013.7 L340.5 1065.8 M346.1 1013.7 L350.6 1065.8 M348.2 1013.7 L352.2 1065.8 M352.8 1013.7 V1065.8 M354.2 1013.7 V1065.8" fill="none" stroke="#4a3736" stroke-width="0.9" stroke-dasharray="4 2.2"/>
<path d="M357.2 1006.7 L352.8 1013.7 M357.2 1074 L352.8 1065.8" fill="none" stroke="#4a3736" stroke-width="0.9" />
<path d="M305.34 1020.53 H314.03 V1031.14 Q314.6 1035.54 321.67 1035.54 H332.64 Q334.26 1035.54 334.26 1037.36 V1042.67 Q334.26 1044.49 332.64 1044.49 H321.67 Q314.6 1044.49 314.03 1050.04 V1059.5 H305.34 Z" fill="none" stroke="#4a3736" stroke-width="1.05" stroke-linejoin="round"/>
<path d="M314.03 1031.14 H338.57 V1048.88 L337.51 1050.04" fill="none" stroke="#4a3736" stroke-width="0.9450000000000001" />
<line x1="299" y1="981.3" x2="299" y2="1102.4" stroke="#4a3736" stroke-width="0.9" />
<line x1="357.2" y1="981.3" x2="357.2" y2="1002.6" stroke="#4a3736" stroke-width="0.9" />
<line x1="299" y1="986" x2="357.2" y2="986" stroke="#4a3736" stroke-width="0.9" />
<polygon points="299,986 307.5,984.3 307.5,987.7" fill="#4a3736" stroke="none" stroke-width="1" stroke-linejoin="round" />
<polygon points="357.2,986 348.7,987.7 348.7,984.3" fill="#4a3736" stroke="none" stroke-width="1" stroke-linejoin="round" />
<text x="327.5" y="981.3" font-size="13.5" text-anchor="middle" font-weight="normal" fill="#4a3736" stroke="#4a3736" stroke-width="0.3">14,7</text>
<line x1="267.7" y1="1008.2" x2="299" y2="1008.2" stroke="#4a3736" stroke-width="0.9" />
<line x1="267.7" y1="1071.9" x2="299" y2="1071.9" stroke="#4a3736" stroke-width="0.9" />
<line x1="273.3" y1="1008.2" x2="273.3" y2="1071.9" stroke="#4a3736" stroke-width="0.9" />
<polygon points="273.3,1008.2 275,1016.7 271.6,1016.7" fill="#4a3736" stroke="none" stroke-width="1" stroke-linejoin="round" />
<polygon points="273.3,1071.9 271.6,1063.4 275,1063.4" fill="#4a3736" stroke="none" stroke-width="1" stroke-linejoin="round" />
<text x="276.8" y="1040" font-size="13.5" text-anchor="middle" font-weight="normal" fill="#4a3736" transform="rotate(90 276.8 1040)" stroke="#4a3736" stroke-width="0.3">16,1</text>
<line x1="357.2" y1="1002.6" x2="382.7" y2="1002.6" stroke="#4a3736" stroke-width="0.9" />
<line x1="357.2" y1="1078" x2="382.7" y2="1078" stroke="#4a3736" stroke-width="0.9" />
<line x1="377.7" y1="1002.6" x2="377.7" y2="1078" stroke="#4a3736" stroke-width="0.9" />
<polygon points="377.7,1002.6 379.4,1011.1 376,1011.1" fill="#4a3736" stroke="none" stroke-width="1" stroke-linejoin="round" />
<polygon points="377.7,1078 376,1069.5 379.4,1069.5" fill="#4a3736" stroke="none" stroke-width="1" stroke-linejoin="round" />
<text x="379.2" y="1040" font-size="13.5" text-anchor="middle" font-weight="normal" fill="#4a3736" transform="rotate(90 379.2 1040)" stroke="#4a3736" stroke-width="0.3">19</text>
<line x1="344.5" y1="1078" x2="344.5" y2="1102.4" stroke="#4a3736" stroke-width="0.9" />
<line x1="299" y1="1097.7" x2="344.5" y2="1097.7" stroke="#4a3736" stroke-width="0.9" />
<polygon points="299,1097.7 307.5,1096 307.5,1099.4" fill="#4a3736" stroke="none" stroke-width="1" stroke-linejoin="round" />
<polygon points="344.5,1097.7 336,1099.4 336,1096" fill="#4a3736" stroke="none" stroke-width="1" stroke-linejoin="round" />
<text x="321.5" y="1093.3" font-size="13.5" text-anchor="middle" font-weight="normal" fill="#4a3736" stroke="#4a3736" stroke-width="0.3">11,4</text>
<clipPath id="th575"><rect x="397" y="1014.8" width="97" height="51.5"/></clipPath><g clip-path="url(#th575)">
<line x1="397.6" y1="1018.5" x2="494" y2="1018.5" stroke="#4a3736" stroke-width="1.1" />
<line x1="397.6" y1="1062.6" x2="494" y2="1062.6" stroke="#4a3736" stroke-width="1.1" />
<polygon points="397.6,1015.6 397.6,1065.5 406.75,1065.5 398.1,1018.5" fill="#fdfdfd" stroke="#4a3736" stroke-width="1.1" stroke-linejoin="round" />
<polygon points="402.9,1015.6 414.7,1015.6 423.5,1065.5 411.7,1065.5" fill="#fdfdfd" stroke="#4a3736" stroke-width="1.1" stroke-linejoin="round" />
<line x1="417.41" y1="1018.5" x2="425.19" y2="1062.6" stroke="#4a3736" stroke-width="0.9900000000000001" />
<polygon points="419.65,1015.6 431.45,1015.6 440.25,1065.5 428.45,1065.5" fill="#fdfdfd" stroke="#4a3736" stroke-width="1.1" stroke-linejoin="round" />
<line x1="434.16" y1="1018.5" x2="441.94" y2="1062.6" stroke="#4a3736" stroke-width="0.9900000000000001" />
<polygon points="436.4,1015.6 448.2,1015.6 457,1065.5 445.2,1065.5" fill="#fdfdfd" stroke="#4a3736" stroke-width="1.1" stroke-linejoin="round" />
<line x1="450.91" y1="1018.5" x2="458.69" y2="1062.6" stroke="#4a3736" stroke-width="0.9900000000000001" />
<polygon points="453.15,1015.6 464.95,1015.6 473.75,1065.5 461.95,1065.5" fill="#fdfdfd" stroke="#4a3736" stroke-width="1.1" stroke-linejoin="round" />
<line x1="467.66" y1="1018.5" x2="475.44" y2="1062.6" stroke="#4a3736" stroke-width="0.9900000000000001" />
<polygon points="469.9,1015.6 481.7,1015.6 490.5,1065.5 478.7,1065.5" fill="#fdfdfd" stroke="#4a3736" stroke-width="1.1" stroke-linejoin="round" />
<line x1="484.41" y1="1018.5" x2="492.19" y2="1062.6" stroke="#4a3736" stroke-width="0.9900000000000001" />
<polygon points="486.65,1015.6 498.45,1015.6 507.25,1065.5 495.45,1065.5" fill="#fdfdfd" stroke="#4a3736" stroke-width="1.1" stroke-linejoin="round" />
<line x1="501.16" y1="1018.5" x2="508.94" y2="1062.6" stroke="#4a3736" stroke-width="0.9900000000000001" />
</g>
<line x1="397.6" y1="1015.6" x2="397.6" y2="1065.5" stroke="#4a3736" stroke-width="1.1" />
<rect x="495.2" y="1002.6" width="8.2" height="75.7" rx="0" fill="#fbfbfb" stroke="#4a3736" stroke-width="1.3" />
<path d="M495.2 1008 Q492.8 1040 495.2 1074" fill="none" stroke="#4a3736" stroke-width="1" />
<line x1="503.2" y1="1002.6" x2="521.2" y2="1002.6" stroke="#4a3736" stroke-width="0.9" />
<line x1="503.2" y1="1078" x2="521.2" y2="1078" stroke="#4a3736" stroke-width="0.9" />
<line x1="516.3" y1="1002.6" x2="516.3" y2="1078" stroke="#4a3736" stroke-width="0.9" />
<polygon points="516.3,1002.6 518,1011.1 514.6,1011.1" fill="#4a3736" stroke="none" stroke-width="1" stroke-linejoin="round" />
<polygon points="516.3,1078 514.6,1069.5 518,1069.5" fill="#4a3736" stroke="none" stroke-width="1" stroke-linejoin="round" />
<text x="519.8" y="1040" font-size="13.5" text-anchor="middle" font-weight="normal" fill="#4a3736" transform="rotate(90 519.8 1040)" stroke="#4a3736" stroke-width="0.3">18,8</text>
<line x1="397.4" y1="1065.8" x2="397.4" y2="1096.9" stroke="#4a3736" stroke-width="0.9" />
<line x1="503.2" y1="1078" x2="503.2" y2="1096.9" stroke="#4a3736" stroke-width="0.9" />
<line x1="397.4" y1="1092.7" x2="503.2" y2="1092.7" stroke="#4a3736" stroke-width="0.9" />
<polygon points="397.4,1092.7 405.9,1091 405.9,1094.4" fill="#4a3736" stroke="none" stroke-width="1" stroke-linejoin="round" />
<polygon points="503.2,1092.7 494.7,1094.4 494.7,1091" fill="#4a3736" stroke="none" stroke-width="1" stroke-linejoin="round" />
<text x="450" y="1088" font-size="13.5" text-anchor="middle" font-weight="normal" fill="#4a3736" stroke="#4a3736" stroke-width="0.3">24,4</text>
<polygon points="542,1110.2 549.3,1102.4 549.3,1130.1 542,1137.9" fill="#fff" stroke="#000" stroke-width="1.5" stroke-linejoin="round" />
<polygon points="511.5,1110.2 518.8,1102.4 549.3,1102.4 542,1110.2" fill="#fff" stroke="#000" stroke-width="1.5" stroke-linejoin="round" fill-opacity="0.55"/>
<rect x="511.5" y="1110.2" width="30.5" height="27.7" rx="0" fill="#fff" stroke="#000" stroke-width="1.5" />
<line x1="527.25" y1="1110.2" x2="531.63" y2="1102.4" stroke="#000" stroke-width="1.5" />
<text x="526.75" y="1128.91" font-size="13.5" text-anchor="middle" font-weight="bold" fill="#000" stroke="#000" stroke-width="0.5">100</text>
<g transform="translate(178.2 36.3)"><rect x="-93" y="890.1" width="151.6" height="225.6" fill="url(#wm2)" opacity="0.17" style="mix-blend-mode:multiply"/></g>
<g transform="translate(178.2 36.3)"><rect x="71.5" y="924.2" width="287.3" height="150.2" fill="url(#wm2)" opacity="0.22" style="mix-blend-mode:multiply"/></g>
<path d="M85.2 926.4H564.2V1152H85.2Z M87.2 928.6V1150H561.4V928.6Z" fill="#dcdcde" fill-rule="evenodd"/>
<!-- card 8 -->
<rect x="597.3" y="926.4" width="480.5" height="225.9" rx="0" fill="#fff" stroke="none" stroke-width="1" />
<g transform="translate(146.3 36.3)"><rect x="451" y="890.1" width="480.5" height="225.9" fill="url(#wm)" opacity="1"/></g>
<rect x="597.3" y="926.4" width="151.6" height="225.9" rx="0" fill="#dcdcde" stroke="none" stroke-width="1" />
<rect x="776" y="951" width="279" height="174" rx="0" fill="#fff" stroke="none" stroke-width="1" />
<text x="612" y="957.5" font-size="23.5" text-anchor="start" font-weight="bold" fill="#a71d26" textLength="66.3" lengthAdjust="spacingAndGlyphs" stroke="#a71d26" stroke-width="0.45">21011</text>
<defs><linearGradient id="pq621m" x1="0" y1="0" x2="1" y2="0"><stop offset="0" stop-color="#8e9092"/><stop offset="0.1" stop-color="#828486"/><stop offset="0.13" stop-color="#b8babc"/><stop offset="0.18" stop-color="#a4a6a8"/><stop offset="0.45" stop-color="#acaeb0"/><stop offset="0.58" stop-color="#c2c2c4"/><stop offset="0.75" stop-color="#b0b2b4"/><stop offset="0.95" stop-color="#a4a6a8"/><stop offset="1" stop-color="#8a8c8e"/></linearGradient><linearGradient id="pq621f" x1="0" y1="0" x2="0" y2="1"><stop offset="0" stop-color="#aeaeae"/><stop offset="0.4" stop-color="#9c9c9c"/><stop offset="0.8" stop-color="#b7b7b7"/><stop offset="1" stop-color="#959595"/></linearGradient><filter id="pq621b" x="-0.1" y="-0.1" width="1.2" height="1.2" color-interpolation-filters="sRGB"><feTurbulence type="fractalNoise" baseFrequency="0.13" numOctaves="2" seed="11" result="t"/><feColorMatrix in="t" type="matrix" values="0.45 0 0 0 0.74  0.45 0 0 0 0.74  0.45 0 0 0 0.74  0 0 0 0 1" result="g"/><feComposite in="g" in2="SourceGraphic" operator="in" result="gn"/><feBlend in="SourceGraphic" in2="gn" mode="multiply" result="m"/><feGaussianBlur in="m" stdDeviation="0.55"/></filter></defs>
<g filter="url(#pq621b)">
<path d="M633.01 1076.64 H705.95 V1127.89 Q669.48 1136.66 633.01 1127.89Z" fill="url(#pq621m)" stroke="none" stroke-width="1" />
<polygon points="672.71,1078.49 675.48,1078.49 675.48,1132.96 672.71,1132.96" fill="#bebebe" stroke="none" stroke-width="1" stroke-linejoin="round" />
<polygon points="701.8,1078.49 705.95,1078.49 705.95,1127.89 701.8,1129.27" fill="#a2a2a2" stroke="none" stroke-width="1" stroke-linejoin="round" />
<polygon points="633.01,1076.64 705.95,1076.64 705.95,1080.33 633.01,1080.33" fill="#8a8a8a" stroke="none" stroke-width="1" stroke-linejoin="round" />
<path d="M686.1 1123.73 V1092.34 Q686.56 1083.56 694.41 1083.56 H701.33 V1120.04 H697.64 V1091.41 Q694.41 1090.03 692.1 1093.26 V1123.73Z" fill="#8c8c8c" stroke="none" stroke-width="1" />
<polygon points="672.25,1117.27 691.64,1117.27 691.64,1127.89 672.25,1127.89" fill="#8a8a8a" stroke="none" stroke-width="1" stroke-linejoin="round" />
<polygon points="674.1,1119.11 686.1,1119.11 686.1,1122.81 674.1,1122.81" fill="#b2b2b2" stroke="none" stroke-width="1" stroke-linejoin="round" />
<polygon points="697.64,1115.42 704.1,1115.42 704.1,1125.58 697.64,1125.58" fill="#4c4c4c" stroke="none" stroke-width="1" stroke-linejoin="round" />
<path d="M626.08 1061.4 V1074.33 Q670.4 1081.26 714.72 1074.33 V1061.4Z" fill="url(#pq621f)" stroke="none" stroke-width="1" />
<ellipse cx="670.4" cy="1061.4" rx="44.32" ry="3.88" fill="#9a9a9a" stroke="none" stroke-width="1"/>
<polygon points="644.55,1018.01 697.18,1018.01 698.1,1064.64 643.62,1064.64" fill="#1c1d1f" stroke="none" stroke-width="1" stroke-linejoin="round" />
<polygon points="641.32,1026.78 698.56,1019.85 699.03,1027.7 641.5,1035.09" fill="#232427" stroke="none" stroke-width="1" stroke-linejoin="round" />
<polygon points="641.32,1043.86 698.56,1036.93 699.03,1044.78 641.5,1052.17" fill="#232427" stroke="none" stroke-width="1" stroke-linejoin="round" />
<polygon points="641.32,1060.02 698.56,1053.09 699.03,1060.94 641.5,1068.33" fill="#232427" stroke="none" stroke-width="1" stroke-linejoin="round" />
<polygon points="644.55,1035.55 696.26,1030.47 696.26,1033.24 644.55,1037.86" fill="#0f1012" stroke="none" stroke-width="1" stroke-linejoin="round" />
<polygon points="644.55,1053.09 696.26,1048.01 696.26,1050.78 644.55,1055.4" fill="#0f1012" stroke="none" stroke-width="1" stroke-linejoin="round" />
<ellipse cx="670.86" cy="1062.79" rx="27.7" ry="3.23" fill="#1c1d1f" stroke="none" stroke-width="1"/>
<path d="M623.77 1010.9 Q669.02 1007.85 714.26 1010.9 L712.88 1013.85 Q703.64 1014.77 698.1 1018.93 H641.78 Q636.24 1014.77 625.16 1013.85Z" fill="#2c2d2f" stroke="none" stroke-width="1" />
</g>
<rect x="721.2" y="1124.8" width="20.6" height="20.9" rx="0" fill="#69696c" stroke="none" stroke-width="1" />
<text x="731.5" y="1140.1" font-size="11.5" text-anchor="middle" font-weight="normal" fill="#000" textLength="16" lengthAdjust="spacingAndGlyphs" >NyL</text>
<rect x="827.3" y="1001.5" width="56" height="77.6" rx="0" fill="none" stroke="#4a3736" stroke-width="1.3" />
<path d="M827.3 1001.5 L883.3 998 M827.3 1079.1 L883.3 1083" fill="none" stroke="#4a3736" stroke-width="1" />
<rect x="883.3" y="994.6" width="16.1" height="91.4" rx="0" fill="none" stroke="#4a3736" stroke-width="1.5" />
<line x1="827.3" y1="1009.3" x2="899" y2="1009.3" stroke="#4a3736" stroke-width="1.1" stroke-dasharray="4.5 2.4"/>
<line x1="827.3" y1="1071.6" x2="899" y2="1071.6" stroke="#4a3736" stroke-width="1.1" stroke-dasharray="4.5 2.4"/>
<path d="M884.5 1009.5 L874.5 1071.5 M887.5 1009.5 L878.5 1071.5 M885.5 1009.5 L891 1071.5 M888 1009.5 L893 1071.5 M894.2 1009.5 V1071.5 M896 1009.5 V1071.5" fill="none" stroke="#4a3736" stroke-width="1" stroke-dasharray="4.5 2.4"/>
<path d="M899.4 999.6 L894.2 1009.5 M899.4 1081 L894.2 1071.5" fill="none" stroke="#4a3736" stroke-width="1" />
<path d="M835.1 1017.1 H845.8 V1029.9 Q846.5 1035.2 855.2 1035.2 H868.7 Q870.7 1035.2 870.7 1037.4 V1043.8 Q870.7 1046 868.7 1046 H855.2 Q846.5 1046 845.8 1052.7 V1064.1 H835.1 Z" fill="none" stroke="#4a3736" stroke-width="1.2" stroke-linejoin="round"/>
<path d="M845.8 1029.9 H876 V1051.3 L874.7 1052.7" fill="none" stroke="#4a3736" stroke-width="1.08" />
<line x1="827.3" y1="968.3" x2="827.3" y2="1116.5" stroke="#4a3736" stroke-width="0.9" />
<line x1="899.4" y1="968.3" x2="899.4" y2="994.6" stroke="#4a3736" stroke-width="0.9" />
<line x1="827.3" y1="974.6" x2="899.4" y2="974.6" stroke="#4a3736" stroke-width="0.9" />
<polygon points="827.3,974.6 837.3,972.6 837.3,976.6" fill="#4a3736" stroke="none" stroke-width="1" stroke-linejoin="round" />
<polygon points="899.4,974.6 889.4,976.6 889.4,972.6" fill="#4a3736" stroke="none" stroke-width="1" stroke-linejoin="round" />
<text x="863.3" y="969" font-size="16.2" text-anchor="middle" font-weight="normal" fill="#4a3736" stroke="#4a3736" stroke-width="0.35">14,7</text>
<line x1="790" y1="1001.5" x2="827.3" y2="1001.5" stroke="#4a3736" stroke-width="0.9" />
<line x1="790" y1="1079.1" x2="827.3" y2="1079.1" stroke="#4a3736" stroke-width="0.9" />
<line x1="795.5" y1="1001.5" x2="795.5" y2="1079.1" stroke="#4a3736" stroke-width="0.9" />
<polygon points="795.5,1001.5 797.5,1011.5 793.5,1011.5" fill="#4a3736" stroke="none" stroke-width="1" stroke-linejoin="round" />
<polygon points="795.5,1079.1 793.5,1069.1 797.5,1069.1" fill="#4a3736" stroke="none" stroke-width="1" stroke-linejoin="round" />
<text x="800.6" y="1040.3" font-size="16.2" text-anchor="middle" font-weight="normal" fill="#4a3736" transform="rotate(90 800.6 1040.3)" stroke="#4a3736" stroke-width="0.35">16,1</text>
<line x1="899.4" y1="994.6" x2="923.5" y2="994.6" stroke="#4a3736" stroke-width="0.9" />
<line x1="899.4" y1="1086" x2="923.5" y2="1086" stroke="#4a3736" stroke-width="0.9" />
<line x1="917.4" y1="994.6" x2="917.4" y2="1086" stroke="#4a3736" stroke-width="0.9" />
<polygon points="917.4,994.6 919.4,1004.6 915.4,1004.6" fill="#4a3736" stroke="none" stroke-width="1" stroke-linejoin="round" />
<polygon points="917.4,1086 915.4,1076 919.4,1076" fill="#4a3736" stroke="none" stroke-width="1" stroke-linejoin="round" />
<text x="920.2" y="1040.3" font-size="16.2" text-anchor="middle" font-weight="normal" fill="#4a3736" transform="rotate(90 920.2 1040.3)" stroke="#4a3736" stroke-width="0.35">19</text>
<line x1="883.3" y1="1086" x2="883.3" y2="1116.5" stroke="#4a3736" stroke-width="0.9" />
<line x1="827.3" y1="1110.4" x2="883.3" y2="1110.4" stroke="#4a3736" stroke-width="0.9" />
<polygon points="827.3,1110.4 837.3,1108.4 837.3,1112.4" fill="#4a3736" stroke="none" stroke-width="1" stroke-linejoin="round" />
<polygon points="883.3,1110.4 873.3,1112.4 873.3,1108.4" fill="#4a3736" stroke="none" stroke-width="1" stroke-linejoin="round" />
<text x="855.3" y="1104" font-size="16.2" text-anchor="middle" font-weight="normal" fill="#4a3736" stroke="#4a3736" stroke-width="0.35">11,4</text>
<clipPath id="th676"><rect x="949" y="1008.9" width="56.6" height="63.5"/></clipPath><g clip-path="url(#th676)">
<line x1="949.6" y1="1014.2" x2="1005.6" y2="1014.2" stroke="#4a3736" stroke-width="1.2" />
<line x1="949.6" y1="1067.1" x2="1005.6" y2="1067.1" stroke="#4a3736" stroke-width="1.2" />
<polygon points="949.6,1009.7 949.6,1071.6 959.3,1071.6 950.1,1014.2" fill="#fdfdfd" stroke="#4a3736" stroke-width="1.2" stroke-linejoin="round" />
<polygon points="955.7,1009.7 970.1,1009.7 979.9,1071.6 965.5,1071.6" fill="#fdfdfd" stroke="#4a3736" stroke-width="1.2" stroke-linejoin="round" />
<line x1="973.01" y1="1014.2" x2="981.39" y2="1067.1" stroke="#4a3736" stroke-width="1.08" />
<polygon points="976.3,1009.7 990.7,1009.7 1000.5,1071.6 986.1,1071.6" fill="#fdfdfd" stroke="#4a3736" stroke-width="1.2" stroke-linejoin="round" />
<line x1="993.61" y1="1014.2" x2="1001.99" y2="1067.1" stroke="#4a3736" stroke-width="1.08" />
<polygon points="996.5,1009.7 1010.9,1009.7 1020.7,1071.6 1006.3,1071.6" fill="#fdfdfd" stroke="#4a3736" stroke-width="1.2" stroke-linejoin="round" />
<line x1="1013.81" y1="1014.2" x2="1022.19" y2="1067.1" stroke="#4a3736" stroke-width="1.08" />
</g>
<line x1="949.6" y1="1009.7" x2="949.6" y2="1071.6" stroke="#4a3736" stroke-width="1.2" />
<rect x="1007" y="994.1" width="9.6" height="92.7" rx="0" fill="#fff" stroke="#4a3736" stroke-width="1.4" />
<path d="M1007 1000 Q1003.6 1040 1007 1083" fill="none" stroke="#4a3736" stroke-width="1.1" />
<line x1="1016.3" y1="994.6" x2="1038.5" y2="994.6" stroke="#4a3736" stroke-width="0.9" />
<line x1="1016.3" y1="1086" x2="1038.5" y2="1086" stroke="#4a3736" stroke-width="0.9" />
<line x1="1032.9" y1="994.6" x2="1032.9" y2="1086" stroke="#4a3736" stroke-width="0.9" />
<polygon points="1032.9,994.6 1034.9,1004.6 1030.9,1004.6" fill="#4a3736" stroke="none" stroke-width="1" stroke-linejoin="round" />
<polygon points="1032.9,1086 1030.9,1076 1034.9,1076" fill="#4a3736" stroke="none" stroke-width="1" stroke-linejoin="round" />
<text x="1037.6" y="1040.3" font-size="16.2" text-anchor="middle" font-weight="normal" fill="#4a3736" transform="rotate(90 1037.6 1040.3)" stroke="#4a3736" stroke-width="0.35">18,8</text>
<line x1="949.8" y1="1071.3" x2="949.8" y2="1117.9" stroke="#4a3736" stroke-width="0.9" />
<line x1="1016.3" y1="1086" x2="1016.3" y2="1117.9" stroke="#4a3736" stroke-width="0.9" />
<line x1="949.8" y1="1112.3" x2="1016.3" y2="1112.3" stroke="#4a3736" stroke-width="0.9" />
<polygon points="949.8,1112.3 959.8,1110.3 959.8,1114.3" fill="#4a3736" stroke="none" stroke-width="1" stroke-linejoin="round" />
<polygon points="1016.3,1112.3 1006.3,1114.3 1006.3,1110.3" fill="#4a3736" stroke="none" stroke-width="1" stroke-linejoin="round" />
<text x="982.5" y="1106" font-size="16.2" text-anchor="middle" font-weight="normal" fill="#4a3736" stroke="#4a3736" stroke-width="0.35">14,8</text>
<polygon points="1054.3,1109.6 1061.7,1101.8 1061.7,1129.5 1054.3,1137.3" fill="#fff" stroke="#000" stroke-width="1.5" stroke-linejoin="round" />
<polygon points="1023.2,1109.6 1030.6,1101.8 1061.7,1101.8 1054.3,1109.6" fill="#fff" stroke="#000" stroke-width="1.5" stroke-linejoin="round" fill-opacity="0.55"/>
<rect x="1023.2" y="1109.6" width="31.1" height="27.7" rx="0" fill="#fff" stroke="#000" stroke-width="1.5" />
<line x1="1039.25" y1="1109.6" x2="1043.69" y2="1101.8" stroke="#000" stroke-width="1.5" />
<text x="1038.75" y="1128.31" font-size="13.5" text-anchor="middle" font-weight="bold" fill="#000" stroke="#000" stroke-width="0.5">100</text>
<g transform="translate(146.3 36.3)"><rect x="451" y="890.1" width="151.6" height="225.9" fill="url(#wm2)" opacity="0.17" style="mix-blend-mode:multiply"/></g>
<g transform="translate(146.3 36.3)"><rect x="629.7" y="914.7" width="279" height="174" fill="url(#wm2)" opacity="0.22" style="mix-blend-mode:multiply"/></g>
<path d="M597.3 926.4H1077.8V1152.3H597.3Z M599.3 928.6V1150.3H1075V928.6Z" fill="#dcdcde" fill-rule="evenodd"/>
<!-- card 9 -->
<rect x="85.2" y="1175.4" width="478.9" height="225.2" rx="0" fill="#fff" stroke="none" stroke-width="1" />
<g transform="translate(178.2 41.7)"><rect x="-93" y="1133.7" width="478.9" height="225.2" fill="url(#wm)" opacity="1"/></g>
<rect x="85.2" y="1175.4" width="151.6" height="225.2" rx="0" fill="#dcdcde" stroke="none" stroke-width="1" />
<rect x="242" y="1224" width="111.7" height="127.8" rx="0" fill="#f4f4f4" stroke="none" stroke-width="1" />
<rect x="360.2" y="1223.3" width="154.7" height="128.5" rx="0" fill="#f4f4f4" stroke="none" stroke-width="1" />
<text x="97.8" y="1201" font-size="23.5" text-anchor="start" font-weight="bold" fill="#a71d26" textLength="66.3" lengthAdjust="spacingAndGlyphs" stroke="#a71d26" stroke-width="0.45">21085</text>
<defs><linearGradient id="ph717m" x1="0" y1="0" x2="1" y2="0"><stop offset="0" stop-color="#8e9092"/><stop offset="0.06" stop-color="#7e8082"/><stop offset="0.085" stop-color="#bcbec0"/><stop offset="0.13" stop-color="#a8aaac"/><stop offset="0.45" stop-color="#aeb0b2"/><stop offset="0.6" stop-color="#c4c4c6"/><stop offset="0.8" stop-color="#b2b4b5"/><stop offset="0.93" stop-color="#a8aaac"/><stop offset="1" stop-color="#8c8e90"/></linearGradient><linearGradient id="ph717f" x1="0" y1="0" x2="0" y2="1"><stop offset="0" stop-color="#bababa"/><stop offset="0.35" stop-color="#9e9e9e"/><stop offset="0.75" stop-color="#b2b2b2"/><stop offset="1" stop-color="#929292"/></linearGradient><filter id="ph717b" x="-0.1" y="-0.1" width="1.2" height="1.2" color-interpolation-filters="sRGB"><feTurbulence type="fractalNoise" baseFrequency="0.13" numOctaves="2" seed="7" result="t"/><feColorMatrix in="t" type="matrix" values="0.45 0 0 0 0.74  0.45 0 0 0 0.74  0.45 0 0 0 0.74  0 0 0 0 1" result="g"/><feComposite in="g" in2="SourceGraphic" operator="in" result="gn"/><feBlend in="SourceGraphic" in2="gn" mode="multiply" result="m"/><feGaussianBlur in="m" stdDeviation="0.55"/></filter></defs>
<g filter="url(#ph717b)">
<path d="M123.01 1294.33 H191.8 V1342.35 Q157.63 1351.58 123.01 1342.35Z" fill="url(#ph717m)" stroke="none" stroke-width="1" />
<polygon points="156.71,1295.26 160.4,1295.26 160.4,1346.96 156.71,1346.96" fill="#b9b9b9" stroke="none" stroke-width="1" stroke-linejoin="round" />
<polygon points="186.26,1295.26 191.8,1295.26 191.8,1342.81 186.26,1344.19" fill="#a7a7a7" stroke="none" stroke-width="1" stroke-linejoin="round" />
<polygon points="123.01,1294.33 191.8,1294.33 191.8,1297.56 123.01,1297.56" fill="#8c8c8c" stroke="none" stroke-width="1" stroke-linejoin="round" />
<polygon points="171.94,1302.64 185.79,1302.18 186.26,1336.81 183.49,1336.81 183.02,1307.72 176.56,1308.64 176.1,1340.5 171.94,1340.96" fill="#4a4a4a" stroke="none" stroke-width="1" stroke-linejoin="round" />
<polygon points="172.87,1303.1 184.87,1302.64 184.87,1306.34 173.33,1307.26" fill="#222" stroke="none" stroke-width="1" stroke-linejoin="round" />
<polygon points="157.63,1336.35 176.1,1336.35 176.1,1341.89 157.63,1341.89" fill="#555" stroke="none" stroke-width="1" stroke-linejoin="round" />
<polygon points="159.02,1338.19 171.48,1338.19 171.48,1341.42 159.02,1341.42" fill="#2e2e2e" stroke="none" stroke-width="1" stroke-linejoin="round" />
<polygon points="184.22,1329.88 190.41,1329.88 190.41,1340.04 184.22,1340.04" fill="#555" stroke="none" stroke-width="1" stroke-linejoin="round" />
<polygon points="176.56,1309.11 183.02,1308.18 183.3,1334.04 176.56,1335.88" fill="#c6c6c6" stroke="none" stroke-width="1" stroke-linejoin="round" />
<ellipse cx="158.09" cy="1281.87" rx="40.63" ry="4.62" fill="#b4b4b4" stroke="none" stroke-width="1"/>
<path d="M117.47 1281.87 V1292.49 Q158.09 1299.87 198.72 1292.49 V1281.87Z" fill="url(#ph717f)" stroke="none" stroke-width="1" />
<ellipse cx="158.09" cy="1281.87" rx="40.63" ry="4.62" fill="#bababa" stroke="none" stroke-width="1"/>
<polygon points="132.7,1235.24 181.64,1235.24 183.49,1285.1 131.78,1285.1" fill="#1b1c1e" stroke="none" stroke-width="1" stroke-linejoin="round" />
<polygon points="129.19,1238.01 184.41,1242.62 184.59,1251.86 129.38,1245.86" fill="#222326" stroke="none" stroke-width="1" stroke-linejoin="round" />
<polygon points="129.19,1253.7 184.41,1258.32 184.59,1267.55 129.38,1261.55" fill="#222326" stroke="none" stroke-width="1" stroke-linejoin="round" />
<polygon points="129.19,1268.02 184.41,1272.63 184.59,1281.87 129.38,1275.87" fill="#222326" stroke="none" stroke-width="1" stroke-linejoin="round" />
<polygon points="132.7,1244.93 180.72,1247.7 180.72,1250.47 132.7,1247.24" fill="#111214" stroke="none" stroke-width="1" stroke-linejoin="round" />
<polygon points="132.7,1260.17 180.72,1262.94 180.72,1265.71 132.7,1262.48" fill="#111214" stroke="none" stroke-width="1" stroke-linejoin="round" />
<polygon points="132.7,1274.48 180.72,1277.25 180.72,1280.02 132.7,1276.79" fill="#111214" stroke="none" stroke-width="1" stroke-linejoin="round" />
<ellipse cx="157.63" cy="1282.33" rx="26.32" ry="3.51" fill="#1b1c1e" stroke="none" stroke-width="1"/>
<path d="M115.16 1229.7 C116.08 1221.39 197.34 1221.39 197.8 1229.7 C197.34 1233.85 188.1 1235.05 183.49 1236.62 H129.93 C125.31 1235.05 115.62 1233.85 115.16 1229.7Z" fill="#1c1d1f" stroke="none" stroke-width="1" />
<ellipse cx="156.52" cy="1226.93" rx="39.24" ry="3.51" fill="#2e2f31" stroke="none" stroke-width="1"/>
<ellipse cx="156.52" cy="1225.27" rx="15.7" ry="1.48" fill="#101113" stroke="none" stroke-width="1"/>
</g>
<rect x="209.7" y="1372.8" width="20.4" height="20.6" rx="0" fill="#69696c" stroke="none" stroke-width="1" />
<text x="219.9" y="1387.8" font-size="11.5" text-anchor="middle" font-weight="normal" fill="#000" textLength="16" lengthAdjust="spacingAndGlyphs" >NyL</text>
<defs><filter id="blur9" x="-0.05" y="-0.05" width="1.1" height="1.1"><feGaussianBlur stdDeviation="0.75"/></filter></defs><g filter="url(#blur9)">
<text x="285.6" y="1241" font-size="18.5" text-anchor="middle" font-weight="normal" fill="#5a5a5a" stroke="#5a5a5a" stroke-width="0.5">18,8</text>
<line x1="248.5" y1="1246.6" x2="313.2" y2="1246.6" stroke="#5a5a5a" stroke-width="1.4" />
<line x1="248.5" y1="1241.6" x2="248.5" y2="1264" stroke="#5a5a5a" stroke-width="1.4" />
<line x1="313.2" y1="1241.6" x2="313.2" y2="1264" stroke="#5a5a5a" stroke-width="1.4" />
<line x1="248.5" y1="1255.6" x2="330.6" y2="1255.6" stroke="#5a5a5a" stroke-width="1.3" />
<line x1="248.5" y1="1264" x2="313.2" y2="1264" stroke="#5a5a5a" stroke-width="1.6" />
<clipPath id="c9t"><rect x="259" y="1264" width="45" height="82.6"/></clipPath><g clip-path="url(#c9t)">
<rect x="261.8" y="1264" width="39.2" height="82.2" rx="0" fill="#f6f6f6" stroke="#5a5a5a" stroke-width="1.2" />
<polygon points="260.3,1265.9 302.7,1257.9 302.7,1248.1 260.3,1256.1" fill="#f7f7f7" stroke="#5a5a5a" stroke-width="1.3" stroke-linejoin="round" />
<polygon points="260.3,1279.5 302.7,1271.5 302.7,1261.7 260.3,1269.7" fill="#f7f7f7" stroke="#5a5a5a" stroke-width="1.3" stroke-linejoin="round" />
<polygon points="260.3,1293.1 302.7,1285.1 302.7,1275.3 260.3,1283.3" fill="#f7f7f7" stroke="#5a5a5a" stroke-width="1.3" stroke-linejoin="round" />
<polygon points="260.3,1306.7 302.7,1298.7 302.7,1288.9 260.3,1296.9" fill="#f7f7f7" stroke="#5a5a5a" stroke-width="1.3" stroke-linejoin="round" />
<polygon points="260.3,1320.3 302.7,1312.3 302.7,1302.5 260.3,1310.5" fill="#f7f7f7" stroke="#5a5a5a" stroke-width="1.3" stroke-linejoin="round" />
<polygon points="260.3,1333.9 302.7,1325.9 302.7,1316.1 260.3,1324.1" fill="#f7f7f7" stroke="#5a5a5a" stroke-width="1.3" stroke-linejoin="round" />
<polygon points="260.3,1347.5 302.7,1339.5 302.7,1329.7 260.3,1337.7" fill="#f7f7f7" stroke="#5a5a5a" stroke-width="1.3" stroke-linejoin="round" />
<polygon points="260.3,1361.1 302.7,1353.1 302.7,1343.3 260.3,1351.3" fill="#f7f7f7" stroke="#5a5a5a" stroke-width="1.3" stroke-linejoin="round" />
</g>
<line x1="260.3" y1="1346.2" x2="302.5" y2="1346.2" stroke="#5a5a5a" stroke-width="1.6" />
<line x1="302.5" y1="1346.2" x2="330.6" y2="1346.2" stroke="#5a5a5a" stroke-width="1.3" />
<line x1="325.6" y1="1257" x2="325.6" y2="1346.2" stroke="#5a5a5a" stroke-width="1.3" />
<text x="347" y="1300.6" font-size="18.5" text-anchor="middle" font-weight="normal" fill="#5a5a5a" transform="rotate(-90 347 1300.6)" stroke="#5a5a5a" stroke-width="0.5">24,4</text>
<text x="435.3" y="1241.6" font-size="18.5" text-anchor="middle" font-weight="normal" fill="#5a5a5a" stroke="#5a5a5a" stroke-width="0.5">19</text>
<line x1="402.4" y1="1246.6" x2="466.2" y2="1246.6" stroke="#5a5a5a" stroke-width="1.4" />
<line x1="402.4" y1="1241" x2="402.4" y2="1264" stroke="#5a5a5a" stroke-width="1.4" />
<line x1="466.2" y1="1241" x2="466.2" y2="1264" stroke="#5a5a5a" stroke-width="1.4" />
<rect x="402.4" y="1252.8" width="63.8" height="11.2" rx="0" fill="none" stroke="#5a5a5a" stroke-width="1.4" />
<rect x="406.6" y="1264" width="54.8" height="38.6" rx="0" fill="none" stroke="#5a5a5a" stroke-width="1.5" />
<line x1="410" y1="1256.5" x2="458" y2="1256.5" stroke="#5a5a5a" stroke-width="1.1" stroke-dasharray="3 2"/>
<line x1="410" y1="1260" x2="458" y2="1260" stroke="#5a5a5a" stroke-width="1.1" stroke-dasharray="3 2"/>
<line x1="411.5" y1="1264" x2="411.5" y2="1302.6" stroke="#5a5a5a" stroke-width="1.1" stroke-dasharray="3 2"/>
<line x1="456.5" y1="1264" x2="456.5" y2="1302.6" stroke="#5a5a5a" stroke-width="1.1" stroke-dasharray="3 2"/>
<path d="M418 1297 V1291 H426 V1270 H444 V1291 H452 V1297 H440 V1275 H430.5 V1297 Z" fill="none" stroke="#5a5a5a" stroke-width="1.2" />
<line x1="383.5" y1="1252.8" x2="402.4" y2="1252.8" stroke="#5a5a5a" stroke-width="1.2" />
<line x1="383.5" y1="1302.6" x2="488.2" y2="1302.6" stroke="#5a5a5a" stroke-width="1.3" />
<line x1="389.1" y1="1252.8" x2="389.1" y2="1302.6" stroke="#5a5a5a" stroke-width="1.2" />
<text x="379.4" y="1276.7" font-size="18.5" text-anchor="middle" font-weight="normal" fill="#5a5a5a" transform="rotate(-90 379.4 1276.7)" stroke="#5a5a5a" stroke-width="0.5">14,7</text>
<line x1="466.2" y1="1264" x2="488.2" y2="1264" stroke="#5a5a5a" stroke-width="1.2" />
<line x1="482.5" y1="1264" x2="482.5" y2="1302.6" stroke="#5a5a5a" stroke-width="1.2" />
<text x="506" y="1282.4" font-size="18.5" text-anchor="middle" font-weight="normal" fill="#5a5a5a" transform="rotate(-90 506 1282.4)" stroke="#5a5a5a" stroke-width="0.5">11,4</text>
<line x1="406.6" y1="1302.6" x2="406.6" y2="1328.8" stroke="#5a5a5a" stroke-width="1.2" />
<line x1="461.4" y1="1302.6" x2="461.4" y2="1328.8" stroke="#5a5a5a" stroke-width="1.2" />
<line x1="406.6" y1="1324.5" x2="461.4" y2="1324.5" stroke="#5a5a5a" stroke-width="1.3" />
<text x="436.1" y="1345.6" font-size="18.5" text-anchor="middle" font-weight="normal" fill="#5a5a5a" stroke="#5a5a5a" stroke-width="0.5">16,1</text>
</g>
<polygon points="542.2,1359.1 549.5,1351.3 549.5,1378.1 542.2,1385.9" fill="#fff" stroke="#000" stroke-width="1.5" stroke-linejoin="round" />
<polygon points="511.5,1359.1 518.8,1351.3 549.5,1351.3 542.2,1359.1" fill="#fff" stroke="#000" stroke-width="1.5" stroke-linejoin="round" fill-opacity="0.55"/>
<rect x="511.5" y="1359.1" width="30.7" height="26.8" rx="0" fill="#fff" stroke="#000" stroke-width="1.5" />
<line x1="527.35" y1="1359.1" x2="531.73" y2="1351.3" stroke="#000" stroke-width="1.5" />
<text x="526.85" y="1377.36" font-size="13.5" text-anchor="middle" font-weight="bold" fill="#000" stroke="#000" stroke-width="0.5">100</text>
<g transform="translate(178.2 41.7)"><rect x="-93" y="1133.7" width="151.6" height="225.2" fill="url(#wm2)" opacity="0.17" style="mix-blend-mode:multiply"/></g>
<g transform="translate(178.2 41.7)"><rect x="63.8" y="1182.3" width="111.7" height="127.8" fill="url(#wm2)" opacity="0.22" style="mix-blend-mode:multiply"/></g>
<g transform="translate(178.2 41.7)"><rect x="182" y="1181.6" width="154.7" height="128.5" fill="url(#wm2)" opacity="0.22" style="mix-blend-mode:multiply"/></g>
<path d="M85.2 1175.4H564.1V1400.6H85.2Z M87.2 1177.6V1398.6H561.3V1177.6Z" fill="#dcdcde" fill-rule="evenodd"/>
</svg>
</body></html>
